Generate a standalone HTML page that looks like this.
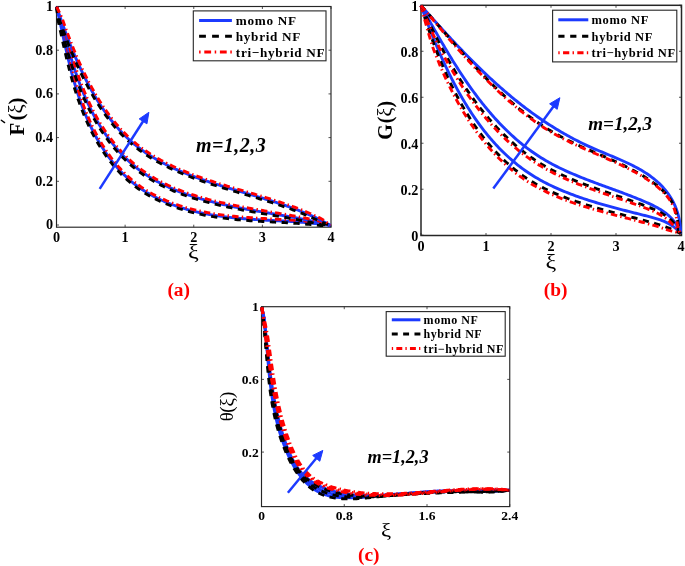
<!DOCTYPE html>
<html><head><meta charset="utf-8"><style>
html,body{margin:0;padding:0;background:#fff;width:685px;height:566px;overflow:hidden}
svg{display:block;will-change:transform}
text{font-family:"Liberation Serif",serif;fill:#000}
.tk{font-size:13.5px;font-weight:bold}
.lg{font-size:12.6px;font-weight:bold}
.m{font-size:19px;font-weight:bold;font-style:italic}
.xi{font-size:19px}
.yl{font-size:17px;font-weight:bold}
.pl{font-size:19.4px;font-weight:bold;fill:#ff0000}
</style></head><body>
<svg width="685" height="566" viewBox="0 0 685 566">
<rect x="56.50" y="6.50" width="274.50" height="220.70" fill="none" stroke="#262626" stroke-width="1.15"/>
<line x1="56.50" y1="227.20" x2="56.50" y2="224.70" stroke="#262626" stroke-width="0.8"/><line x1="56.50" y1="6.50" x2="56.50" y2="9.00" stroke="#262626" stroke-width="0.8"/><line x1="125.12" y1="227.20" x2="125.12" y2="224.70" stroke="#262626" stroke-width="0.8"/><line x1="125.12" y1="6.50" x2="125.12" y2="9.00" stroke="#262626" stroke-width="0.8"/><line x1="193.75" y1="227.20" x2="193.75" y2="224.70" stroke="#262626" stroke-width="0.8"/><line x1="193.75" y1="6.50" x2="193.75" y2="9.00" stroke="#262626" stroke-width="0.8"/><line x1="262.38" y1="227.20" x2="262.38" y2="224.70" stroke="#262626" stroke-width="0.8"/><line x1="262.38" y1="6.50" x2="262.38" y2="9.00" stroke="#262626" stroke-width="0.8"/><line x1="331.00" y1="227.20" x2="331.00" y2="224.70" stroke="#262626" stroke-width="0.8"/><line x1="331.00" y1="6.50" x2="331.00" y2="9.00" stroke="#262626" stroke-width="0.8"/><line x1="56.50" y1="225.00" x2="59.00" y2="225.00" stroke="#262626" stroke-width="0.8"/><line x1="331.00" y1="225.00" x2="328.50" y2="225.00" stroke="#262626" stroke-width="0.8"/><line x1="56.50" y1="181.30" x2="59.00" y2="181.30" stroke="#262626" stroke-width="0.8"/><line x1="331.00" y1="181.30" x2="328.50" y2="181.30" stroke="#262626" stroke-width="0.8"/><line x1="56.50" y1="137.60" x2="59.00" y2="137.60" stroke="#262626" stroke-width="0.8"/><line x1="331.00" y1="137.60" x2="328.50" y2="137.60" stroke="#262626" stroke-width="0.8"/><line x1="56.50" y1="93.90" x2="59.00" y2="93.90" stroke="#262626" stroke-width="0.8"/><line x1="331.00" y1="93.90" x2="328.50" y2="93.90" stroke="#262626" stroke-width="0.8"/><line x1="56.50" y1="50.20" x2="59.00" y2="50.20" stroke="#262626" stroke-width="0.8"/><line x1="331.00" y1="50.20" x2="328.50" y2="50.20" stroke="#262626" stroke-width="0.8"/><line x1="56.50" y1="6.50" x2="59.00" y2="6.50" stroke="#262626" stroke-width="0.8"/><line x1="331.00" y1="6.50" x2="328.50" y2="6.50" stroke="#262626" stroke-width="0.8"/>
<text x="56.50" y="242.10" text-anchor="middle" class="tk" style="font-size:14.2px">0</text><text x="125.12" y="242.10" text-anchor="middle" class="tk" style="font-size:14.2px">1</text><text x="193.75" y="242.10" text-anchor="middle" class="tk" style="font-size:14.2px">2</text><text x="262.38" y="242.10" text-anchor="middle" class="tk" style="font-size:14.2px">3</text><text x="331.00" y="242.10" text-anchor="middle" class="tk" style="font-size:14.2px">4</text><text x="53.00" y="229.30" text-anchor="end" class="tk" style="font-size:14.2px">0</text><text x="53.00" y="185.60" text-anchor="end" class="tk" style="font-size:14.2px">0.2</text><text x="53.00" y="141.90" text-anchor="end" class="tk" style="font-size:14.2px">0.4</text><text x="53.00" y="98.20" text-anchor="end" class="tk" style="font-size:14.2px">0.6</text><text x="53.00" y="54.50" text-anchor="end" class="tk" style="font-size:14.2px">0.8</text><text x="53.00" y="10.80" text-anchor="end" class="tk" style="font-size:14.2px">1</text>
<g>
<path d="M56.60 6.80L57.03 8.68L57.46 10.56L57.88 12.46L58.30 14.36L58.73 16.26L59.15 18.18L59.57 20.10L59.99 22.02L60.41 23.95L60.83 25.89L61.25 27.83L61.67 29.78L62.10 31.73L62.52 33.69L62.95 35.65L63.38 37.62L63.81 39.58L64.25 41.56L64.68 43.53L65.13 45.51L65.57 47.49L66.02 49.47L66.48 51.46L66.93 53.44L67.40 55.43L67.87 57.42L68.34 59.41L68.83 61.40L69.32 63.39L69.81 65.38L70.31 67.37L70.82 69.36L71.34 71.35L71.87 73.34L72.40 75.32L72.94 77.31L73.50 79.29L74.06 81.27L74.63 83.25L75.21 85.23L75.80 87.20L76.41 89.17L77.02 91.13L77.64 93.09L78.28 95.05L78.93 97.01L79.59 98.95L80.26 100.90L80.95 102.84L81.65 104.77L82.37 106.70L83.09 108.62L83.84 110.53L84.59 112.44L85.36 114.34L86.15 116.23L86.95 118.12L87.77 120.00L88.60 121.87L89.45 123.73L90.31 125.58L91.19 127.42L92.08 129.25L92.99 131.07L93.92 132.88L94.86 134.67L95.82 136.46L96.79 138.23L97.78 139.99L98.79 141.74L99.82 143.48L100.86 145.20L101.92 146.90L102.99 148.59L104.08 150.27L105.19 151.93L106.32 153.58L107.46 155.20L108.62 156.82L109.80 158.41L111.00 159.99L112.22 161.55L113.45 163.09L114.70 164.61L115.97 166.12L117.26 167.60L118.57 169.07L119.89 170.51L121.24 171.94L122.60 173.34L123.98 174.72L125.38 176.08L126.80 177.42L128.24 178.73L129.70 180.02L131.18 181.29L132.68 182.53L134.20 183.75L135.74 184.95L137.30 186.12L138.88 187.26L140.47 188.38L142.09 189.48L143.73 190.55L145.38 191.60L147.05 192.62L148.74 193.62L150.45 194.59L152.17 195.54L153.91 196.47L155.67 197.38L157.44 198.26L159.22 199.13L161.02 199.96L162.83 200.78L164.66 201.58L166.50 202.35L168.35 203.11L170.22 203.84L172.09 204.55L173.98 205.24L175.88 205.91L177.79 206.57L179.71 207.20L181.64 207.81L183.58 208.41L185.53 208.98L187.48 209.54L189.45 210.07L191.42 210.59L193.40 211.09L195.38 211.58L197.38 212.05L199.37 212.49L201.38 212.93L203.39 213.34L205.40 213.74L207.42 214.12L209.44 214.49L211.46 214.84L213.49 215.18L215.52 215.50L217.55 215.81L219.59 216.10L221.63 216.38L223.67 216.65L225.71 216.90L227.76 217.14L229.81 217.38L231.85 217.60L233.90 217.81L235.95 218.01L238.01 218.20L240.06 218.38L242.11 218.56L244.17 218.72L246.22 218.88L248.28 219.03L250.33 219.18L252.39 219.32L254.44 219.46L256.49 219.59L258.55 219.71L260.60 219.83L262.65 219.95L264.70 220.07L266.75 220.18L268.79 220.29L270.84 220.40L272.88 220.51L274.92 220.62L276.96 220.73L279.00 220.84L281.03 220.95L283.06 221.06L285.09 221.17L287.11 221.29L289.14 221.41L291.15 221.53L293.17 221.66L295.18 221.79L297.18 221.93L299.19 222.07L301.18 222.22L303.18 222.37L305.16 222.53L307.15 222.70L309.13 222.88L311.10 223.07L313.07 223.26L315.03 223.46L316.98 223.68L318.93 223.90L320.88 224.14L322.82 224.39L324.75 224.65L326.67 224.92L328.59 225.20L330.50 225.50" stroke="#1c3aff" stroke-width="2.90" fill="none"/>
<path d="M56.60 6.80L56.79 8.73L56.99 10.67L57.17 12.61L57.36 14.57L57.54 16.52L57.73 18.49L58.10 20.42L58.52 22.34L58.94 24.27L59.36 26.21L59.79 28.15L60.21 30.10L60.63 32.05L61.06 34.01L61.48 35.97L61.91 37.94L62.35 39.91L62.78 41.88L63.22 43.86L63.66 45.84L64.11 47.82L64.56 49.80L65.01 51.79L65.47 53.78L65.94 55.77L66.41 57.77L66.89 59.76L67.37 61.75L67.86 63.75L68.36 65.74L68.86 67.74L69.37 69.73L69.89 71.73L70.42 73.72L70.95 75.72L71.50 77.71L72.05 79.70L72.62 81.68L73.19 83.67L73.77 85.65L74.37 87.63L74.97 89.61L75.59 91.58L76.22 93.55L76.86 95.52L77.51 97.48L78.17 99.44L78.85 101.39L79.54 103.34L80.24 105.29L80.96 107.22L81.69 109.15L82.44 111.08L83.20 113.00L83.98 114.91L84.77 116.82L85.57 118.71L86.40 120.60L87.23 122.48L88.09 124.35L88.95 126.22L89.84 128.07L90.74 129.91L91.65 131.74L92.59 133.57L93.54 135.38L94.50 137.18L95.48 138.96L96.48 140.74L97.50 142.50L98.53 144.24L99.58 145.98L100.64 147.70L101.73 149.40L102.83 151.10L103.95 152.77L105.09 154.43L106.24 156.07L107.41 157.70L108.60 159.31L109.81 160.90L111.04 162.48L112.28 164.04L113.55 165.57L114.83 167.09L116.13 168.59L117.45 170.07L118.79 171.53L120.15 172.97L121.53 174.39L122.93 175.79L124.35 177.16L125.78 178.52L127.24 179.85L128.72 181.15L130.22 182.44L131.73 183.70L133.27 184.93L134.83 186.14L136.41 187.33L138.01 188.49L139.62 189.62L141.26 190.73L142.92 191.81L144.59 192.87L146.28 193.90L147.99 194.91L149.71 195.90L151.46 196.86L153.21 197.80L154.99 198.72L156.77 199.61L158.58 200.48L160.39 201.33L162.22 202.15L164.07 202.96L165.93 203.74L167.80 204.50L169.68 205.24L171.57 205.96L173.47 206.65L175.39 207.33L177.31 207.99L179.25 208.63L181.19 209.24L183.15 209.84L185.11 210.42L187.08 210.98L189.06 211.52L191.04 212.05L193.04 212.55L195.04 213.04L197.04 213.51L199.05 213.96L201.07 214.39L203.09 214.81L205.11 215.21L207.14 215.60L209.18 215.97L211.21 216.32L213.25 216.66L215.29 216.98L217.34 217.29L219.38 217.58L221.43 217.87L223.48 218.13L225.53 218.39L227.59 218.63L229.64 218.87L231.70 219.09L233.75 219.30L235.81 219.50L237.87 219.69L239.93 219.88L241.99 220.05L244.05 220.22L246.11 220.38L248.17 220.53L250.23 220.68L252.28 220.82L254.34 220.95L256.40 221.08L258.46 221.21L260.51 221.33L262.56 221.45L264.62 221.56L266.66 221.68L268.71 221.79L270.76 221.90L272.80 222.01L274.84 222.12L276.88 222.23L278.92 222.33L280.95 222.44L282.98 222.56L285.00 222.67L287.03 222.79L289.05 222.91L291.06 223.03L293.07 223.16L295.08 223.29L297.08 223.42L299.08 223.57L301.07 223.71L303.06 223.87L305.04 224.03L307.02 224.20L308.99 224.37L310.95 224.56L312.91 224.75L314.87 224.96L316.82 225.17L318.76 225.39L320.70 225.59L322.66 225.54L324.63 225.51L326.59 225.49L328.54 225.49L330.50 225.50" stroke="#000" stroke-width="2.90" fill="none" stroke-dasharray="6.3 5.5"/>
<path d="M56.60 6.80L57.26 8.63L57.93 10.46L58.59 12.30L59.25 14.15L59.91 16.00L60.57 17.86L61.03 19.77L61.45 21.70L61.88 23.63L62.30 25.57L62.72 27.51L63.14 29.46L63.56 31.41L63.99 33.37L64.42 35.33L64.84 37.29L65.28 39.26L65.71 41.23L66.15 43.20L66.59 45.18L67.03 47.16L67.48 49.14L67.94 51.12L68.40 53.10L68.86 55.09L69.33 57.07L69.80 59.06L70.28 61.04L70.77 63.03L71.27 65.01L71.77 67.00L72.28 68.98L72.79 70.97L73.32 72.95L73.85 74.93L74.39 76.91L74.94 78.88L75.50 80.86L76.07 82.83L76.65 84.80L77.24 86.76L77.84 88.72L78.45 90.68L79.07 92.63L79.71 94.58L80.35 96.53L81.01 98.47L81.68 100.40L82.36 102.33L83.06 104.25L83.77 106.17L84.49 108.08L85.23 109.98L85.98 111.88L86.75 113.77L87.53 115.65L88.33 117.53L89.14 119.39L89.97 121.25L90.81 123.10L91.67 124.94L92.54 126.77L93.43 128.58L94.33 130.39L95.25 132.19L96.19 133.97L97.14 135.74L98.10 137.50L99.09 139.25L100.09 140.99L101.10 142.71L102.14 144.41L103.19 146.10L104.25 147.78L105.33 149.44L106.43 151.09L107.55 152.72L108.68 154.34L109.84 155.93L111.00 157.51L112.19 159.08L113.39 160.62L114.61 162.15L115.85 163.65L117.11 165.14L118.39 166.61L119.68 168.06L120.99 169.49L122.32 170.90L123.67 172.29L125.03 173.65L126.42 174.99L127.82 176.32L129.25 177.62L130.69 178.89L132.15 180.14L133.63 181.37L135.13 182.58L136.65 183.76L138.19 184.91L139.75 186.04L141.32 187.15L142.92 188.23L144.54 189.29L146.17 190.32L147.83 191.33L149.50 192.32L151.18 193.29L152.89 194.23L154.61 195.15L156.34 196.04L158.10 196.92L159.86 197.77L161.64 198.60L163.44 199.41L165.25 200.20L167.07 200.97L168.91 201.71L170.76 202.44L172.62 203.15L174.49 203.83L176.37 204.50L178.27 205.14L180.17 205.77L182.09 206.38L184.01 206.97L185.94 207.54L187.89 208.09L189.84 208.63L191.80 209.14L193.76 209.64L195.73 210.12L197.71 210.58L199.70 211.03L201.69 211.46L203.68 211.87L205.69 212.27L207.69 212.65L209.70 213.01L211.71 213.36L213.73 213.70L215.75 214.02L217.77 214.32L219.80 214.61L221.83 214.89L223.86 215.16L225.89 215.41L227.93 215.65L229.97 215.88L232.01 216.10L234.05 216.31L236.10 216.52L238.14 216.71L240.19 216.89L242.24 217.06L244.29 217.23L246.33 217.39L248.38 217.54L250.43 217.68L252.49 217.82L254.54 217.96L256.59 218.09L258.64 218.21L260.69 218.34L262.73 218.45L264.78 218.57L266.83 218.68L268.87 218.79L270.92 218.90L272.96 219.01L275.00 219.12L277.04 219.23L279.08 219.34L281.11 219.45L283.15 219.56L285.18 219.67L287.20 219.79L289.23 219.91L291.25 220.03L293.26 220.16L295.28 220.29L297.29 220.43L299.29 220.57L301.30 220.72L303.30 220.88L305.29 221.04L307.28 221.21L309.26 221.39L311.24 221.57L313.22 221.77L315.19 221.97L317.15 222.19L319.11 222.41L321.06 222.69L322.97 223.23L324.87 223.78L326.75 224.34L328.63 224.91L330.50 225.50" stroke="#ff0000" stroke-width="2.90" fill="none" stroke-dasharray="6.5 3.2 1.4 3.2"/>
<path d="M56.60 6.80L57.12 8.61L57.63 10.42L58.14 12.24L58.65 14.07L59.16 15.90L59.67 17.74L60.18 19.58L60.69 21.43L61.20 23.28L61.71 25.14L62.22 27.00L62.73 28.86L63.24 30.73L63.76 32.60L64.28 34.48L64.80 36.36L65.32 38.24L65.84 40.12L66.37 42.00L66.91 43.89L67.44 45.77L67.99 47.66L68.53 49.55L69.08 51.44L69.64 53.33L70.21 55.22L70.77 57.11L71.35 59.00L71.93 60.88L72.52 62.77L73.12 64.65L73.72 66.54L74.34 68.42L74.96 70.30L75.59 72.17L76.22 74.05L76.87 75.92L77.53 77.79L78.20 79.65L78.88 81.51L79.56 83.36L80.26 85.22L80.97 87.06L81.70 88.90L82.43 90.74L83.18 92.57L83.93 94.39L84.71 96.21L85.49 98.02L86.29 99.83L87.10 101.63L87.93 103.42L88.77 105.20L89.62 106.98L90.50 108.74L91.38 110.50L92.28 112.25L93.20 114.00L94.14 115.73L95.08 117.45L96.05 119.16L97.03 120.87L98.03 122.56L99.04 124.24L100.07 125.91L101.11 127.56L102.17 129.21L103.24 130.84L104.33 132.46L105.44 134.07L106.56 135.67L107.70 137.25L108.85 138.81L110.02 140.36L111.20 141.90L112.40 143.42L113.61 144.93L114.84 146.42L116.09 147.90L117.35 149.35L118.62 150.80L119.92 152.22L121.22 153.63L122.54 155.02L123.88 156.39L125.23 157.74L126.60 159.07L127.99 160.39L129.38 161.68L130.80 162.96L132.23 164.21L133.67 165.45L135.13 166.66L136.61 167.85L138.10 169.02L139.60 170.17L141.12 171.30L142.66 172.40L144.21 173.49L145.77 174.55L147.35 175.59L148.94 176.61L150.55 177.61L152.17 178.59L153.80 179.55L155.44 180.49L157.10 181.41L158.77 182.32L160.46 183.20L162.15 184.07L163.86 184.92L165.57 185.75L167.30 186.56L169.04 187.36L170.79 188.14L172.55 188.91L174.32 189.65L176.10 190.39L177.89 191.10L179.69 191.81L181.50 192.49L183.32 193.17L185.15 193.82L186.98 194.47L188.83 195.10L190.68 195.72L192.54 196.32L194.40 196.91L196.28 197.49L198.16 198.06L200.04 198.62L201.94 199.16L203.84 199.69L205.74 200.22L207.65 200.73L209.57 201.23L211.49 201.72L213.42 202.20L215.35 202.68L217.29 203.14L219.23 203.59L221.17 204.04L223.12 204.48L225.07 204.91L227.03 205.33L228.98 205.75L230.95 206.16L232.91 206.56L234.87 206.96L236.84 207.35L238.81 207.73L240.78 208.11L242.75 208.48L244.72 208.85L246.70 209.22L248.67 209.58L250.65 209.94L252.62 210.29L254.59 210.64L256.57 210.99L258.54 211.33L260.51 211.67L262.48 212.01L264.45 212.35L266.42 212.69L268.38 213.03L270.35 213.36L272.31 213.70L274.26 214.03L276.22 214.37L278.17 214.70L280.12 215.04L282.06 215.37L284.00 215.71L285.94 216.05L287.87 216.39L289.80 216.74L291.72 217.08L293.64 217.43L295.55 217.79L297.45 218.14L299.35 218.50L301.25 218.87L303.13 219.23L305.02 219.61L306.89 219.99L308.75 220.37L310.61 220.76L312.46 221.15L314.31 221.55L316.14 221.96L317.97 222.38L319.79 222.80L321.60 223.23L323.40 223.66L325.19 224.11L326.97 224.56L328.74 225.02L330.50 225.50" stroke="#1c3aff" stroke-width="2.90" fill="none"/>
<path d="M56.60 6.80L56.89 8.67L57.18 10.55L57.46 12.43L57.74 14.32L58.02 16.22L58.30 18.12L58.73 19.98L59.24 21.83L59.75 23.68L60.26 25.54L60.77 27.40L61.28 29.26L61.80 31.13L62.31 33.00L62.83 34.88L63.35 36.76L63.87 38.64L64.40 40.52L64.93 42.41L65.46 44.30L66.00 46.19L66.54 48.08L67.09 49.97L67.65 51.86L68.20 53.76L68.77 55.65L69.34 57.54L69.92 59.44L70.50 61.33L71.09 63.22L71.69 65.11L72.30 67.00L72.91 68.89L73.53 70.77L74.16 72.66L74.81 74.54L75.46 76.41L76.12 78.29L76.79 80.16L77.47 82.03L78.16 83.89L78.86 85.75L79.58 87.60L80.30 89.46L81.04 91.30L81.79 93.14L82.55 94.97L83.33 96.80L84.12 98.62L84.92 100.44L85.74 102.25L86.57 104.05L87.42 105.85L88.28 107.63L89.15 109.41L90.05 111.18L90.95 112.95L91.88 114.70L92.82 116.45L93.77 118.18L94.75 119.91L95.73 121.62L96.74 123.32L97.76 125.02L98.79 126.70L99.84 128.37L100.91 130.03L101.99 131.67L103.09 133.31L104.21 134.93L105.34 136.54L106.48 138.13L107.65 139.71L108.82 141.27L110.02 142.82L111.23 144.36L112.45 145.88L113.69 147.38L114.95 148.87L116.22 150.34L117.51 151.80L118.81 153.23L120.13 154.65L121.46 156.06L122.81 157.44L124.18 158.81L125.56 160.15L126.96 161.48L128.37 162.79L129.80 164.08L131.25 165.35L132.71 166.59L134.18 167.82L135.67 169.02L137.18 170.21L138.70 171.37L140.24 172.51L141.79 173.63L143.36 174.72L144.94 175.79L146.53 176.85L148.14 177.88L149.76 178.89L151.40 179.88L153.05 180.85L154.71 181.80L156.38 182.73L158.07 183.64L159.76 184.53L161.47 185.41L163.20 186.27L164.93 187.10L166.67 187.92L168.42 188.73L170.19 189.52L171.96 190.29L173.75 191.04L175.54 191.78L177.34 192.50L179.16 193.21L180.98 193.90L182.81 194.57L184.64 195.24L186.49 195.89L188.35 196.52L190.21 197.14L192.08 197.75L193.95 198.35L195.84 198.93L197.73 199.50L199.62 200.06L201.53 200.60L203.44 201.14L205.35 201.66L207.27 202.18L209.19 202.68L211.12 203.18L213.06 203.66L215.00 204.13L216.94 204.60L218.89 205.06L220.84 205.50L222.79 205.94L224.75 206.38L226.71 206.80L228.68 207.22L230.64 207.63L232.61 208.03L234.58 208.43L236.55 208.82L238.52 209.20L240.50 209.58L242.47 209.96L244.45 210.33L246.43 210.69L248.40 211.05L250.38 211.41L252.36 211.77L254.33 212.12L256.31 212.46L258.28 212.81L260.26 213.15L262.23 213.49L264.20 213.83L266.16 214.17L268.13 214.50L270.09 214.84L272.05 215.17L274.01 215.51L275.97 215.84L277.92 216.18L279.86 216.51L281.81 216.85L283.75 217.19L285.68 217.53L287.61 217.87L289.53 218.21L291.45 218.56L293.37 218.91L295.27 219.26L297.18 219.62L299.07 219.98L300.96 220.34L302.84 220.71L304.72 221.08L306.59 221.46L308.45 221.84L310.30 222.23L312.15 222.62L313.99 223.02L315.81 223.43L317.63 223.84L319.44 224.26L321.27 224.57L323.13 224.73L324.99 224.91L326.83 225.09L328.67 225.29L330.50 225.50" stroke="#000" stroke-width="2.90" fill="none" stroke-dasharray="6.3 5.5"/>
<path d="M56.60 6.80L57.34 8.54L58.08 10.29L58.82 12.05L59.56 13.82L60.30 15.59L61.04 17.36L61.63 19.18L62.13 21.03L62.64 22.89L63.15 24.74L63.66 26.60L64.18 28.47L64.69 30.34L65.20 32.21L65.72 34.08L66.24 35.96L66.76 37.83L67.29 39.71L67.82 41.60L68.35 43.48L68.89 45.36L69.43 47.25L69.97 49.13L70.52 51.02L71.08 52.90L71.64 54.79L72.21 56.67L72.78 58.56L73.36 60.44L73.95 62.32L74.55 64.20L75.15 66.08L75.76 67.95L76.38 69.82L77.01 71.69L77.64 73.56L78.29 75.42L78.94 77.28L79.61 79.14L80.28 80.99L80.97 82.84L81.66 84.68L82.37 86.52L83.09 88.35L83.82 90.18L84.56 92.00L85.32 93.81L86.08 95.62L86.87 97.42L87.66 99.22L88.47 101.00L89.29 102.78L90.12 104.56L90.97 106.32L91.84 108.08L92.72 109.82L93.61 111.56L94.53 113.29L95.45 115.01L96.40 116.72L97.35 118.42L98.33 120.11L99.32 121.79L100.32 123.46L101.34 125.11L102.38 126.76L103.43 128.39L104.49 130.01L105.57 131.62L106.67 133.22L107.78 134.80L108.91 136.36L110.05 137.92L111.21 139.46L112.38 140.98L113.57 142.49L114.78 143.98L115.99 145.46L117.23 146.92L118.48 148.37L119.74 149.79L121.02 151.21L122.31 152.60L123.62 153.97L124.95 155.33L126.29 156.67L127.64 157.99L129.01 159.29L130.40 160.57L131.80 161.84L133.21 163.08L134.64 164.30L136.08 165.50L137.54 166.68L139.01 167.84L140.50 168.97L142.01 170.09L143.52 171.18L145.06 172.25L146.61 173.30L148.17 174.33L149.74 175.34L151.33 176.33L152.94 177.30L154.55 178.25L156.18 179.19L157.82 180.10L159.48 180.99L161.15 181.87L162.83 182.73L164.52 183.57L166.22 184.40L167.93 185.20L169.66 185.99L171.40 186.77L173.14 187.53L174.90 188.27L176.67 189.00L178.45 189.71L180.23 190.41L182.03 191.09L183.84 191.76L185.65 192.41L187.47 193.05L189.31 193.68L191.15 194.29L192.99 194.89L194.85 195.48L196.71 196.06L198.58 196.62L200.46 197.18L202.35 197.72L204.24 198.25L206.13 198.77L208.04 199.28L209.95 199.78L211.86 200.27L213.78 200.75L215.70 201.22L217.63 201.68L219.57 202.13L221.50 202.58L223.45 203.02L225.39 203.44L227.34 203.87L229.29 204.28L231.25 204.69L233.21 205.09L235.17 205.49L237.13 205.87L239.09 206.26L241.06 206.64L243.03 207.01L245.00 207.38L246.97 207.74L248.94 208.10L250.91 208.46L252.88 208.81L254.85 209.16L256.83 209.51L258.80 209.85L260.77 210.20L262.74 210.54L264.70 210.87L266.67 211.21L268.64 211.55L270.60 211.88L272.56 212.22L274.52 212.55L276.47 212.89L278.43 213.22L280.37 213.56L282.32 213.90L284.26 214.23L286.20 214.57L288.13 214.92L290.06 215.26L291.99 215.61L293.91 215.96L295.82 216.31L297.73 216.67L299.64 217.03L301.53 217.39L303.42 217.76L305.31 218.14L307.19 218.52L309.06 218.90L310.92 219.29L312.78 219.69L314.63 220.09L316.47 220.50L318.30 220.92L320.13 221.34L321.92 221.89L323.66 222.60L325.39 223.31L327.10 224.03L328.81 224.76L330.50 225.50" stroke="#ff0000" stroke-width="2.90" fill="none" stroke-dasharray="6.5 3.2 1.4 3.2"/>
<path d="M56.60 6.80L57.17 8.49L57.75 10.20L58.32 11.90L58.91 13.62L59.50 15.34L60.09 17.07L60.70 18.80L61.30 20.53L61.92 22.28L62.54 24.02L63.16 25.77L63.79 27.53L64.43 29.28L65.08 31.04L65.73 32.81L66.39 34.57L67.05 36.34L67.72 38.11L68.40 39.88L69.09 41.66L69.78 43.43L70.48 45.20L71.19 46.98L71.90 48.75L72.63 50.53L73.36 52.30L74.10 54.07L74.85 55.85L75.60 57.62L76.37 59.38L77.14 61.15L77.92 62.91L78.71 64.67L79.51 66.43L80.32 68.18L81.13 69.93L81.96 71.68L82.79 73.42L83.64 75.16L84.49 76.89L85.35 78.61L86.23 80.33L87.11 82.05L88.00 83.75L88.90 85.45L89.81 87.15L90.74 88.83L91.67 90.51L92.61 92.18L93.57 93.84L94.53 95.50L95.51 97.14L96.49 98.78L97.49 100.40L98.50 102.02L99.52 103.62L100.55 105.22L101.59 106.80L102.65 108.38L103.71 109.94L104.79 111.49L105.88 113.02L106.98 114.55L108.09 116.06L109.22 117.56L110.36 119.04L111.51 120.52L112.67 121.97L113.85 123.42L115.04 124.85L116.24 126.26L117.45 127.66L118.68 129.04L119.92 130.41L121.18 131.76L122.45 133.09L123.73 134.41L125.02 135.71L126.33 136.99L127.65 138.25L128.99 139.50L130.34 140.72L131.71 141.93L133.09 143.12L134.48 144.29L135.89 145.44L137.31 146.57L138.75 147.69L140.20 148.78L141.66 149.86L143.14 150.92L144.63 151.96L146.13 152.99L147.64 153.99L149.17 154.99L150.71 155.96L152.26 156.92L153.82 157.87L155.39 158.80L156.97 159.71L158.57 160.61L160.17 161.50L161.79 162.37L163.41 163.23L165.04 164.07L166.69 164.91L168.34 165.72L170.01 166.53L171.68 167.32L173.36 168.11L175.05 168.88L176.75 169.63L178.45 170.38L180.17 171.12L181.89 171.85L183.62 172.56L185.35 173.27L187.09 173.96L188.84 174.65L190.60 175.33L192.36 176.00L194.13 176.66L195.90 177.31L197.68 177.96L199.47 178.60L201.26 179.23L203.05 179.85L204.85 180.47L206.66 181.08L208.47 181.68L210.28 182.28L212.09 182.87L213.91 183.46L215.74 184.04L217.56 184.62L219.39 185.19L221.22 185.76L223.06 186.33L224.89 186.89L226.73 187.45L228.57 188.01L230.41 188.56L232.25 189.11L234.10 189.66L235.94 190.21L237.79 190.76L239.63 191.30L241.48 191.85L243.32 192.39L245.17 192.94L247.01 193.48L248.86 194.03L250.70 194.57L252.54 195.12L254.38 195.67L256.22 196.22L258.06 196.77L259.89 197.32L261.73 197.88L263.56 198.43L265.38 199.00L267.21 199.56L269.03 200.13L270.84 200.70L272.66 201.28L274.47 201.86L276.27 202.44L278.07 203.04L279.87 203.63L281.66 204.23L283.45 204.84L285.23 205.46L287.01 206.08L288.78 206.70L290.54 207.34L292.30 207.98L294.05 208.63L295.79 209.29L297.53 209.96L299.26 210.63L300.99 211.32L302.70 212.01L304.41 212.71L306.11 213.43L307.80 214.15L309.49 214.88L311.16 215.63L312.83 216.38L314.48 217.15L316.13 217.92L317.77 218.71L319.40 219.52L321.02 220.33L322.62 221.16L324.22 222.00L325.81 222.85L327.38 223.72L328.95 224.60L330.50 225.49" stroke="#1c3aff" stroke-width="2.90" fill="none"/>
<path d="M56.60 6.80L56.96 8.57L57.32 10.34L57.69 12.12L58.06 13.91L58.43 15.71L58.81 17.51L59.28 19.29L59.89 21.03L60.50 22.78L61.12 24.52L61.75 26.28L62.38 28.04L63.02 29.80L63.67 31.56L64.32 33.33L64.98 35.10L65.65 36.87L66.32 38.65L67.00 40.42L67.69 42.20L68.38 43.98L69.09 45.76L69.80 47.54L70.51 49.32L71.24 51.10L71.97 52.88L72.72 54.66L73.47 56.43L74.22 58.21L74.99 59.98L75.77 61.75L76.55 63.52L77.34 65.29L78.14 67.05L78.96 68.81L79.77 70.57L80.60 72.32L81.44 74.07L82.29 75.82L83.15 77.55L84.01 79.29L84.89 81.01L85.78 82.74L86.67 84.45L87.58 86.16L88.50 87.86L89.42 89.56L90.36 91.24L91.31 92.92L92.27 94.60L93.24 96.26L94.22 97.91L95.21 99.56L96.22 101.19L97.23 102.82L98.26 104.43L99.29 106.04L100.34 107.63L101.40 109.22L102.48 110.79L103.56 112.35L104.66 113.90L105.77 115.43L106.89 116.96L108.03 118.47L109.17 119.96L110.33 121.45L111.50 122.92L112.69 124.37L113.89 125.81L115.10 127.24L116.33 128.65L117.57 130.04L118.82 131.42L120.08 132.78L121.36 134.13L122.66 135.46L123.97 136.77L125.29 138.07L126.63 139.34L127.98 140.60L129.34 141.84L130.72 143.06L132.12 144.26L133.53 145.45L134.95 146.61L136.39 147.75L137.84 148.88L139.30 149.98L140.78 151.07L142.27 152.14L143.77 153.19L145.29 154.23L146.82 155.25L148.36 156.25L149.91 157.23L151.47 158.20L153.05 159.16L154.63 160.09L156.23 161.02L157.83 161.92L159.45 162.82L161.08 163.69L162.72 164.56L164.36 165.41L166.02 166.25L167.68 167.07L169.36 167.88L171.04 168.68L172.73 169.47L174.43 170.24L176.14 171.01L177.85 171.76L179.58 172.50L181.31 173.23L183.05 173.95L184.79 174.66L186.54 175.36L188.30 176.05L190.06 176.73L191.83 177.40L193.61 178.07L195.39 178.72L197.18 179.37L198.97 180.01L200.76 180.64L202.56 181.27L204.37 181.89L206.18 182.50L207.99 183.10L209.81 183.70L211.63 184.30L213.45 184.89L215.28 185.47L217.11 186.05L218.94 186.63L220.78 187.20L222.62 187.76L224.45 188.33L226.30 188.89L228.14 189.44L229.98 190.00L231.83 190.55L233.67 191.10L235.52 191.65L237.36 192.20L239.21 192.74L241.05 193.29L242.90 193.83L244.75 194.38L246.59 194.92L248.43 195.47L250.28 196.01L252.12 196.56L253.95 197.10L255.79 197.65L257.63 198.20L259.46 198.76L261.29 199.31L263.12 199.87L264.94 200.43L266.76 200.99L268.58 201.56L270.39 202.13L272.20 202.71L274.01 203.29L275.81 203.87L277.60 204.46L279.39 205.05L281.18 205.65L282.96 206.26L284.74 206.87L286.51 207.49L288.27 208.12L290.03 208.75L291.78 209.39L293.52 210.04L295.26 210.69L296.99 211.36L298.71 212.03L300.43 212.71L302.14 213.40L303.83 214.10L305.53 214.81L307.21 215.53L308.88 216.25L310.55 216.99L312.20 217.74L313.85 218.51L315.49 219.28L317.11 220.06L318.73 220.86L320.34 221.67L322.00 222.35L323.71 222.95L325.42 223.56L327.12 224.19L328.81 224.83L330.50 225.49" stroke="#000" stroke-width="2.90" fill="none" stroke-dasharray="6.3 5.5"/>
<path d="M56.60 6.80L57.38 8.42L58.17 10.05L58.96 11.69L59.76 13.33L60.56 14.97L61.38 16.62L62.11 18.30L62.72 20.04L63.33 21.78L63.95 23.52L64.57 25.26L65.20 27.02L65.84 28.77L66.48 30.53L67.13 32.29L67.79 34.05L68.45 35.81L69.12 37.58L69.80 39.34L70.48 41.11L71.18 42.88L71.87 44.65L72.58 46.42L73.29 48.19L74.02 49.96L74.75 51.73L75.48 53.49L76.23 55.26L76.98 57.02L77.74 58.79L78.51 60.55L79.29 62.30L80.08 64.06L80.87 65.81L81.68 67.55L82.49 69.30L83.31 71.03L84.14 72.77L84.98 74.50L85.83 76.22L86.69 77.94L87.56 79.65L88.44 81.35L89.33 83.05L90.23 84.75L91.13 86.43L92.05 88.11L92.98 89.78L93.92 91.44L94.87 93.09L95.83 94.74L96.80 96.37L97.78 98.00L98.77 99.61L99.77 101.22L100.78 102.81L101.81 104.40L102.84 105.97L103.89 107.54L104.95 109.09L106.02 110.62L107.10 112.15L108.19 113.66L109.30 115.17L110.42 116.65L111.54 118.13L112.69 119.59L113.84 121.03L115.01 122.46L116.19 123.88L117.38 125.28L118.58 126.67L119.80 128.04L121.03 129.39L122.27 130.73L123.53 132.05L124.80 133.35L126.08 134.64L127.37 135.91L128.68 137.16L130.01 138.39L131.34 139.61L132.69 140.80L134.06 141.98L135.44 143.13L136.83 144.27L138.24 145.39L139.66 146.49L141.10 147.58L142.54 148.64L144.01 149.69L145.48 150.73L146.97 151.74L148.47 152.74L149.98 153.73L151.50 154.69L153.04 155.64L154.59 156.58L156.15 157.50L157.72 158.41L159.30 159.30L160.89 160.18L162.49 161.05L164.10 161.90L165.73 162.74L167.36 163.56L169.00 164.38L170.66 165.18L172.32 165.97L173.99 166.74L175.67 167.51L177.35 168.26L179.05 169.01L180.75 169.74L182.47 170.46L184.19 171.17L185.91 171.88L187.65 172.57L189.39 173.25L191.14 173.93L192.89 174.60L194.65 175.25L196.42 175.90L198.19 176.55L199.97 177.18L201.75 177.81L203.54 178.43L205.34 179.05L207.14 179.65L208.94 180.26L210.75 180.85L212.56 181.45L214.37 182.03L216.19 182.61L218.01 183.19L219.84 183.76L221.67 184.33L223.50 184.90L225.33 185.46L227.17 186.02L229.00 186.57L230.84 187.13L232.68 187.68L234.53 188.23L236.37 188.77L238.21 189.32L240.06 189.87L241.90 190.41L243.75 190.96L245.59 191.50L247.44 192.04L249.28 192.59L251.13 193.13L252.97 193.68L254.81 194.23L256.65 194.78L258.49 195.33L260.33 195.88L262.16 196.44L263.99 197.00L265.82 197.56L267.65 198.13L269.48 198.70L271.30 199.27L273.11 199.85L274.93 200.43L276.74 201.02L278.54 201.61L280.35 202.21L282.14 202.81L283.93 203.42L285.72 204.04L287.50 204.66L289.28 205.29L291.05 205.93L292.82 206.57L294.57 207.23L296.33 207.89L298.07 208.56L299.81 209.24L301.54 209.92L303.27 210.62L304.99 211.33L306.69 212.04L308.40 212.77L310.09 213.51L311.77 214.26L313.45 215.02L315.12 215.79L316.78 216.57L318.43 217.37L320.07 218.17L321.70 218.99L323.25 219.96L324.73 221.04L326.19 222.14L327.64 223.25L329.08 224.36L330.50 225.49" stroke="#ff0000" stroke-width="2.90" fill="none" stroke-dasharray="6.5 3.2 1.4 3.2"/>
</g>
<rect x="193.30" y="10.90" width="132.70" height="49.90" fill="#fff" stroke="#262626" stroke-width="1.1"/>
<line x1="199.10" y1="20.40" x2="231.90" y2="20.40" stroke="#1c3aff" stroke-width="3"/><line x1="199.10" y1="36.15" x2="231.90" y2="36.15" stroke="#000" stroke-width="3" stroke-dasharray="6.80 6.20"/><line x1="199.10" y1="51.90" x2="231.90" y2="51.90" stroke="#ff0000" stroke-width="3" stroke-dasharray="1.50 3.70 6.80 3.60"/><text x="235.80" y="25.00" class="lg" style="font-size:13.20px;letter-spacing:0.70px">momo NF</text><text x="235.80" y="40.75" class="lg" style="font-size:13.20px;letter-spacing:0.70px">hybrid NF</text><text x="235.80" y="56.50" class="lg" style="font-size:13.20px;letter-spacing:0.70px">tri−hybrid NF</text>
<rect x="421.00" y="5.30" width="260.50" height="230.20" fill="none" stroke="#262626" stroke-width="1.50"/>
<line x1="421.00" y1="235.50" x2="421.00" y2="233.00" stroke="#262626" stroke-width="0.8"/><line x1="421.00" y1="5.30" x2="421.00" y2="7.80" stroke="#262626" stroke-width="0.8"/><line x1="486.00" y1="235.50" x2="486.00" y2="233.00" stroke="#262626" stroke-width="0.8"/><line x1="486.00" y1="5.30" x2="486.00" y2="7.80" stroke="#262626" stroke-width="0.8"/><line x1="551.00" y1="235.50" x2="551.00" y2="233.00" stroke="#262626" stroke-width="0.8"/><line x1="551.00" y1="5.30" x2="551.00" y2="7.80" stroke="#262626" stroke-width="0.8"/><line x1="616.00" y1="235.50" x2="616.00" y2="233.00" stroke="#262626" stroke-width="0.8"/><line x1="616.00" y1="5.30" x2="616.00" y2="7.80" stroke="#262626" stroke-width="0.8"/><line x1="681.00" y1="235.50" x2="681.00" y2="233.00" stroke="#262626" stroke-width="0.8"/><line x1="681.00" y1="5.30" x2="681.00" y2="7.80" stroke="#262626" stroke-width="0.8"/><line x1="421.00" y1="235.20" x2="423.50" y2="235.20" stroke="#262626" stroke-width="0.8"/><line x1="681.50" y1="235.20" x2="679.00" y2="235.20" stroke="#262626" stroke-width="0.8"/><line x1="421.00" y1="189.22" x2="423.50" y2="189.22" stroke="#262626" stroke-width="0.8"/><line x1="681.50" y1="189.22" x2="679.00" y2="189.22" stroke="#262626" stroke-width="0.8"/><line x1="421.00" y1="143.24" x2="423.50" y2="143.24" stroke="#262626" stroke-width="0.8"/><line x1="681.50" y1="143.24" x2="679.00" y2="143.24" stroke="#262626" stroke-width="0.8"/><line x1="421.00" y1="97.26" x2="423.50" y2="97.26" stroke="#262626" stroke-width="0.8"/><line x1="681.50" y1="97.26" x2="679.00" y2="97.26" stroke="#262626" stroke-width="0.8"/><line x1="421.00" y1="51.28" x2="423.50" y2="51.28" stroke="#262626" stroke-width="0.8"/><line x1="681.50" y1="51.28" x2="679.00" y2="51.28" stroke="#262626" stroke-width="0.8"/><line x1="421.00" y1="5.30" x2="423.50" y2="5.30" stroke="#262626" stroke-width="0.8"/><line x1="681.50" y1="5.30" x2="679.00" y2="5.30" stroke="#262626" stroke-width="0.8"/>
<text x="421.00" y="251.10" text-anchor="middle" class="tk" style="font-size:14.2px">0</text><text x="486.00" y="251.10" text-anchor="middle" class="tk" style="font-size:14.2px">1</text><text x="551.00" y="251.10" text-anchor="middle" class="tk" style="font-size:14.2px">2</text><text x="616.00" y="251.10" text-anchor="middle" class="tk" style="font-size:14.2px">3</text><text x="681.00" y="251.10" text-anchor="middle" class="tk" style="font-size:14.2px">4</text><text x="418.30" y="240.90" text-anchor="end" class="tk" style="font-size:14.2px">0</text><text x="418.30" y="194.92" text-anchor="end" class="tk" style="font-size:14.2px">0.2</text><text x="418.30" y="148.94" text-anchor="end" class="tk" style="font-size:14.2px">0.4</text><text x="418.30" y="102.96" text-anchor="end" class="tk" style="font-size:14.2px">0.6</text><text x="418.30" y="56.98" text-anchor="end" class="tk" style="font-size:14.2px">0.8</text><text x="418.30" y="11.00" text-anchor="end" class="tk" style="font-size:14.2px">1</text>
<g>
<path d="M421.00 5.60L421.61 7.28L422.22 8.97L422.84 10.66L423.46 12.36L424.09 14.05L424.72 15.75L425.36 17.45L425.99 19.16L426.64 20.87L427.29 22.58L427.94 24.29L428.60 26.00L429.27 27.72L429.93 29.44L430.61 31.16L431.29 32.88L431.97 34.60L432.66 36.32L433.36 38.04L434.06 39.76L434.77 41.49L435.48 43.21L436.20 44.93L436.92 46.66L437.65 48.38L438.39 50.10L439.13 51.82L439.88 53.54L440.63 55.26L441.39 56.97L442.16 58.69L442.93 60.40L443.71 62.12L444.50 63.82L445.29 65.53L446.09 67.24L446.90 68.94L447.71 70.64L448.53 72.33L449.36 74.03L450.20 75.72L451.04 77.40L451.89 79.08L452.75 80.76L453.61 82.44L454.48 84.11L455.36 85.77L456.25 87.43L457.15 89.09L458.05 90.74L458.96 92.38L459.88 94.02L460.81 95.66L461.74 97.29L462.69 98.91L463.64 100.52L464.60 102.13L465.57 103.74L466.55 105.33L467.53 106.92L468.53 108.51L469.53 110.08L470.54 111.65L471.56 113.21L472.59 114.76L473.63 116.30L474.68 117.84L475.74 119.37L476.81 120.89L477.88 122.40L478.97 123.90L480.07 125.39L481.17 126.87L482.29 128.35L483.41 129.81L484.55 131.27L485.69 132.71L486.84 134.14L488.01 135.57L489.18 136.98L490.37 138.38L491.57 139.77L492.77 141.15L493.99 142.52L495.21 143.88L496.45 145.22L497.70 146.56L498.96 147.88L500.23 149.19L501.51 150.48L502.80 151.77L504.11 153.04L505.42 154.30L506.75 155.54L508.08 156.78L509.43 157.99L510.79 159.20L512.16 160.39L513.55 161.57L514.94 162.73L516.35 163.88L517.77 165.01L519.20 166.13L520.64 167.23L522.09 168.32L523.56 169.39L525.04 170.45L526.53 171.49L528.03 172.52L529.55 173.53L531.08 174.52L532.62 175.50L534.17 176.46L535.74 177.41L537.32 178.34L538.90 179.25L540.50 180.15L542.11 181.04L543.73 181.91L545.37 182.76L547.01 183.61L548.66 184.44L550.32 185.25L551.99 186.05L553.67 186.84L555.35 187.62L557.05 188.38L558.75 189.13L560.46 189.87L562.18 190.60L563.91 191.32L565.64 192.02L567.38 192.71L569.13 193.40L570.88 194.07L572.64 194.73L574.40 195.38L576.17 196.03L577.95 196.66L579.73 197.28L581.51 197.89L583.30 198.50L585.09 199.10L586.89 199.68L588.69 200.26L590.49 200.83L592.30 201.40L594.11 201.95L595.92 202.50L597.73 203.05L599.55 203.58L601.36 204.11L603.18 204.63L605.00 205.15L606.82 205.66L608.64 206.17L610.46 206.67L612.29 207.16L614.11 207.65L615.93 208.14L617.75 208.62L619.57 209.10L621.38 209.57L623.20 210.04L625.01 210.51L626.83 210.97L628.64 211.43L630.44 211.89L632.25 212.35L634.05 212.80L635.84 213.26L637.64 213.71L639.43 214.15L641.21 214.60L642.99 215.05L644.77 215.50L646.54 215.94L648.30 216.39L650.06 216.84L651.81 217.31L653.54 217.79L655.26 218.29L656.97 218.81L658.65 219.35L660.32 219.93L661.97 220.54L663.59 221.19L665.19 221.89L666.76 222.63L668.31 223.42L669.82 224.26L671.30 225.17L672.75 226.14L674.16 227.17L675.53 228.28L676.86 229.46L678.15 230.72L679.40 232.06L680.60 233.49" stroke="#1c3aff" stroke-width="2.90" fill="none"/>
<path d="M421.00 5.60L421.52 7.31L422.05 9.02L422.58 10.74L423.12 12.46L423.67 14.19L424.22 15.92L424.77 17.65L425.33 19.39L425.90 21.12L426.47 22.87L427.05 24.61L427.64 26.35L428.23 28.10L428.83 29.85L429.43 31.60L430.04 33.36L430.66 35.11L431.29 36.87L431.92 38.63L432.55 40.38L433.20 42.14L433.85 43.90L434.51 45.66L435.17 47.42L435.84 49.18L436.52 50.94L437.21 52.69L437.90 54.45L438.60 56.21L439.31 57.96L440.03 59.72L440.75 61.47L441.48 63.22L442.22 64.97L442.96 66.71L443.71 68.46L444.47 70.20L445.24 71.94L446.02 73.67L446.80 75.41L447.60 77.14L448.40 78.86L449.21 80.58L450.02 82.30L450.85 84.02L451.68 85.73L452.52 87.43L453.38 89.13L454.23 90.83L455.10 92.52L455.98 94.21L456.86 95.89L457.76 97.56L458.66 99.23L459.57 100.89L460.49 102.55L461.42 104.20L462.36 105.85L463.31 107.48L464.27 109.11L465.23 110.74L466.21 112.35L467.20 113.96L468.19 115.56L469.20 117.15L470.21 118.74L471.23 120.31L472.27 121.88L473.31 123.44L474.36 124.99L475.43 126.53L476.50 128.06L477.59 129.58L478.68 131.09L479.78 132.59L480.90 134.08L482.02 135.57L483.16 137.04L484.30 138.50L485.46 139.95L486.63 141.39L487.80 142.81L488.99 144.23L490.19 145.63L491.40 147.02L492.62 148.40L493.85 149.77L495.10 151.13L496.35 152.47L497.62 153.80L498.89 155.12L500.18 156.42L501.48 157.71L502.79 158.99L504.11 160.25L505.44 161.50L506.79 162.73L508.15 163.95L509.52 165.16L510.90 166.35L512.29 167.53L513.69 168.69L515.11 169.83L516.54 170.96L517.98 172.08L519.43 173.18L520.90 174.26L522.38 175.32L523.87 176.37L525.37 177.41L526.88 178.42L528.41 179.42L529.95 180.40L531.50 181.37L533.07 182.31L534.65 183.24L536.24 184.16L537.84 185.05L539.45 185.93L541.08 186.80L542.71 187.65L544.35 188.48L546.01 189.30L547.67 190.11L549.35 190.90L551.03 191.68L552.73 192.44L554.43 193.19L556.14 193.93L557.86 194.66L559.59 195.37L561.32 196.07L563.06 196.76L564.81 197.44L566.57 198.11L568.33 198.76L570.10 199.41L571.88 200.04L573.66 200.67L575.45 201.28L577.24 201.89L579.03 202.49L580.84 203.08L582.64 203.66L584.45 204.23L586.27 204.80L588.08 205.35L589.91 205.90L591.73 206.45L593.56 206.98L595.39 207.51L597.22 208.04L599.05 208.56L600.89 209.07L602.72 209.58L604.56 210.08L606.40 210.58L608.24 211.08L610.08 211.57L611.91 212.06L613.75 212.54L615.59 213.02L617.43 213.50L619.26 213.98L621.10 214.46L622.93 214.93L624.76 215.40L626.59 215.87L628.42 216.34L630.24 216.81L632.06 217.28L633.88 217.75L635.69 218.22L637.50 218.69L639.31 219.16L641.11 219.64L642.90 220.11L644.70 220.59L646.48 221.07L648.26 221.55L650.04 222.04L651.80 222.53L653.56 223.04L655.32 223.55L657.07 224.07L658.81 224.61L660.54 225.16L662.26 225.73L663.98 226.31L665.69 226.92L667.38 227.54L669.07 228.19L670.75 228.86L672.42 229.56L674.08 230.29L675.73 231.04L677.36 231.83L678.99 232.64L680.60 233.49" stroke="#000" stroke-width="2.90" fill="none" stroke-dasharray="6.3 5.5"/>
<path d="M421.00 5.60L421.44 7.34L421.88 9.08L422.33 10.82L422.79 12.57L423.25 14.32L423.71 16.08L424.18 17.84L424.66 19.60L425.14 21.37L425.63 23.14L426.13 24.92L426.63 26.70L427.14 28.48L427.65 30.26L428.17 32.04L428.70 33.83L429.23 35.62L429.77 37.41L430.32 39.20L430.87 41.00L431.43 42.79L432.00 44.59L432.57 46.39L433.15 48.19L433.79 49.97L434.47 51.73L435.16 53.50L435.86 55.26L436.56 57.03L437.27 58.79L437.99 60.55L438.72 62.31L439.45 64.07L440.19 65.83L440.94 67.58L441.70 69.33L442.46 71.08L443.23 72.83L444.01 74.58L444.80 76.32L445.60 78.06L446.40 79.79L447.22 81.52L448.04 83.25L448.87 84.98L449.71 86.70L450.55 88.41L451.41 90.12L452.27 91.83L453.15 93.53L454.03 95.23L454.92 96.92L455.82 98.60L456.73 100.28L457.65 101.96L458.57 103.63L459.51 105.29L460.45 106.94L461.41 108.59L462.37 110.23L463.35 111.87L464.33 113.49L465.32 115.11L466.33 116.73L467.34 118.33L468.36 119.93L469.39 121.52L470.44 123.10L471.49 124.67L472.55 126.23L473.62 127.78L474.71 129.33L475.80 130.86L476.90 132.39L478.02 133.90L479.14 135.41L480.28 136.90L481.42 138.39L482.58 139.86L483.75 141.33L484.92 142.78L486.11 144.22L487.31 145.65L488.52 147.07L489.75 148.47L490.98 149.87L492.22 151.25L493.48 152.62L494.75 153.98L496.03 155.32L497.32 156.66L498.62 157.97L499.94 159.28L501.26 160.57L502.60 161.85L503.95 163.11L505.31 164.36L506.68 165.60L508.07 166.82L509.47 168.02L510.88 169.22L512.30 170.39L513.74 171.55L515.18 172.70L516.64 173.83L518.12 174.94L519.60 176.04L521.10 177.12L522.61 178.18L524.13 179.23L525.67 180.26L527.22 181.27L528.78 182.26L530.36 183.24L531.94 184.20L533.54 185.14L535.15 186.07L536.77 186.98L538.41 187.87L540.05 188.75L541.70 189.61L543.37 190.45L545.04 191.28L546.73 192.09L548.42 192.89L550.12 193.68L551.83 194.45L553.55 195.21L555.28 195.96L557.01 196.69L558.75 197.41L560.50 198.11L562.26 198.81L564.03 199.49L565.80 200.17L567.57 200.83L569.35 201.48L571.14 202.12L572.94 202.75L574.73 203.37L576.54 203.98L578.35 204.58L580.16 205.17L581.97 205.75L583.79 206.33L585.62 206.90L587.44 207.46L589.27 208.01L591.11 208.56L592.94 209.10L594.78 209.63L596.61 210.15L598.45 210.68L600.30 211.19L602.14 211.70L603.98 212.21L605.82 212.71L607.67 213.20L609.51 213.70L611.35 214.18L613.19 214.67L615.03 215.15L616.87 215.63L618.71 216.11L620.55 216.59L622.38 217.06L624.21 217.53L626.04 218.00L627.87 218.47L629.69 218.94L631.51 219.41L633.33 219.88L635.14 220.35L636.95 220.82L638.75 221.29L640.55 221.76L642.34 222.24L644.13 222.71L645.91 223.19L647.68 223.67L649.45 224.16L651.21 224.65L652.95 225.15L654.70 225.66L656.43 226.18L658.15 226.71L659.86 227.25L661.56 227.81L663.26 228.39L664.94 228.99L666.61 229.60L668.27 230.24L669.99 230.71L671.76 231.09L673.53 231.50L675.30 231.95L677.07 232.43L678.83 232.94L680.60 233.49" stroke="#ff0000" stroke-width="2.90" fill="none" stroke-dasharray="6.5 3.2 1.4 3.2"/>
<path d="M421.00 5.60L421.86 7.13L422.71 8.67L423.57 10.21L424.42 11.75L425.29 13.30L426.15 14.85L427.01 16.40L427.88 17.95L428.75 19.50L429.62 21.06L430.49 22.62L431.37 24.18L432.25 25.74L433.13 27.30L434.02 28.87L434.91 30.43L435.80 32.00L436.69 33.56L437.59 35.13L438.49 36.70L439.39 38.27L440.30 39.83L441.21 41.40L442.12 42.97L443.04 44.54L443.96 46.10L444.88 47.67L445.81 49.23L446.75 50.79L447.68 52.36L448.62 53.92L449.57 55.48L450.52 57.03L451.47 58.59L452.43 60.14L453.39 61.69L454.36 63.24L455.33 64.79L456.31 66.33L457.29 67.87L458.28 69.41L459.27 70.94L460.26 72.47L461.27 74.00L462.27 75.52L463.29 77.04L464.30 78.56L465.33 80.07L466.36 81.58L467.39 83.08L468.43 84.58L469.48 86.07L470.53 87.56L471.59 89.04L472.65 90.52L473.72 91.99L474.80 93.46L475.88 94.92L476.97 96.37L478.07 97.82L479.17 99.26L480.28 100.70L481.39 102.13L482.52 103.55L483.64 104.96L484.78 106.37L485.92 107.77L487.07 109.17L488.23 110.55L489.40 111.93L490.57 113.30L491.75 114.67L492.94 116.02L494.13 117.36L495.34 118.70L496.55 120.03L497.76 121.35L498.99 122.66L500.23 123.96L501.47 125.25L502.72 126.54L503.98 127.81L505.25 129.07L506.52 130.32L507.81 131.57L509.10 132.80L510.40 134.02L511.71 135.23L513.03 136.43L514.36 137.62L515.70 138.80L517.04 139.97L518.40 141.12L519.76 142.27L521.14 143.40L522.52 144.52L523.91 145.63L525.32 146.72L526.73 147.80L528.15 148.88L529.58 149.93L531.03 150.98L532.48 152.01L533.94 153.03L535.41 154.03L536.89 155.02L538.39 156.00L539.89 156.97L541.40 157.92L542.93 158.85L544.46 159.77L546.01 160.68L547.56 161.57L549.13 162.45L550.71 163.32L552.29 164.17L553.88 165.01L555.49 165.84L557.10 166.66L558.72 167.46L560.34 168.26L561.98 169.04L563.62 169.81L565.27 170.57L566.93 171.33L568.59 172.07L570.25 172.81L571.93 173.53L573.61 174.25L575.29 174.96L576.98 175.66L578.67 176.36L580.37 177.05L582.07 177.73L583.78 178.41L585.48 179.08L587.20 179.74L588.91 180.40L590.63 181.06L592.34 181.71L594.06 182.36L595.78 183.00L597.51 183.64L599.23 184.28L600.95 184.91L602.68 185.55L604.40 186.18L606.12 186.81L607.85 187.44L609.57 188.07L611.29 188.70L613.01 189.32L614.72 189.95L616.44 190.58L618.15 191.21L619.86 191.84L621.57 192.48L623.27 193.11L624.97 193.75L626.66 194.40L628.35 195.04L630.04 195.69L631.72 196.34L633.39 197.00L635.06 197.66L636.73 198.33L638.39 199.00L640.04 199.68L641.68 200.36L643.32 201.05L644.95 201.75L646.57 202.46L648.18 203.17L649.78 203.90L651.37 204.64L652.95 205.40L654.50 206.18L656.04 206.98L657.56 207.80L659.05 208.65L660.52 209.54L661.96 210.45L663.38 211.40L664.76 212.39L666.12 213.42L667.44 214.49L668.72 215.60L669.96 216.77L671.17 217.99L672.33 219.25L673.45 220.58L674.52 221.96L675.55 223.41L676.53 224.91L677.45 226.49L678.32 228.13L679.14 229.84L679.90 231.63L680.60 233.50" stroke="#1c3aff" stroke-width="2.90" fill="none"/>
<path d="M421.00 5.60L421.73 7.20L422.46 8.80L423.20 10.41L423.94 12.01L424.69 13.62L425.44 15.23L426.20 16.84L426.96 18.46L427.72 20.07L428.50 21.68L429.27 23.30L430.05 24.92L430.84 26.53L431.63 28.15L432.42 29.77L433.22 31.38L434.03 33.00L434.84 34.62L435.66 36.23L436.48 37.85L437.31 39.46L438.14 41.08L438.98 42.69L439.82 44.30L440.67 45.92L441.53 47.52L442.39 49.13L443.26 50.74L444.13 52.34L445.01 53.95L445.89 55.55L446.78 57.14L447.68 58.74L448.58 60.33L449.49 61.92L450.41 63.51L451.33 65.09L452.25 66.68L453.19 68.25L454.13 69.83L455.08 71.40L456.03 72.96L456.99 74.53L457.96 76.09L458.93 77.64L459.91 79.19L460.89 80.74L461.89 82.28L462.89 83.81L463.89 85.34L464.91 86.87L465.93 88.39L466.96 89.91L467.99 91.42L469.04 92.92L470.08 94.42L471.14 95.91L472.21 97.40L473.28 98.88L474.36 100.35L475.44 101.82L476.54 103.28L477.64 104.73L478.75 106.17L479.86 107.61L480.99 109.04L482.12 110.47L483.26 111.88L484.41 113.29L485.56 114.69L486.73 116.09L487.90 117.47L489.08 118.85L490.26 120.21L491.46 121.57L492.66 122.92L493.88 124.26L495.10 125.59L496.33 126.92L497.57 128.23L498.81 129.53L500.07 130.83L501.33 132.11L502.60 133.38L503.88 134.65L505.17 135.90L506.47 137.14L507.78 138.38L509.09 139.60L510.42 140.81L511.75 142.01L513.09 143.20L514.44 144.37L515.80 145.54L517.17 146.69L518.55 147.83L519.94 148.96L521.34 150.08L522.75 151.19L524.16 152.28L525.59 153.36L527.03 154.43L528.47 155.49L529.93 156.53L531.39 157.56L532.87 158.57L534.35 159.58L535.84 160.57L537.35 161.54L538.86 162.50L540.39 163.45L541.92 164.38L543.46 165.30L545.02 166.21L546.58 167.10L548.15 167.97L549.74 168.84L551.33 169.69L552.93 170.52L554.54 171.35L556.16 172.16L557.78 172.96L559.42 173.75L561.06 174.52L562.71 175.29L564.36 176.05L566.02 176.79L567.69 177.53L569.37 178.25L571.05 178.97L572.73 179.68L574.42 180.38L576.12 181.07L577.82 181.75L579.53 182.43L581.23 183.10L582.95 183.76L584.66 184.41L586.39 185.06L588.11 185.70L589.83 186.34L591.56 186.97L593.29 187.60L595.03 188.22L596.76 188.84L598.50 189.45L600.24 190.06L601.97 190.67L603.71 191.27L605.45 191.88L607.19 192.47L608.93 193.07L610.67 193.67L612.41 194.26L614.14 194.85L615.88 195.45L617.61 196.04L619.35 196.63L621.08 197.22L622.80 197.82L624.53 198.41L626.25 199.01L627.97 199.60L629.69 200.20L631.40 200.80L633.10 201.41L634.81 202.01L636.51 202.62L638.20 203.24L639.89 203.86L641.57 204.48L643.25 205.10L644.92 205.74L646.59 206.37L648.25 207.02L649.90 207.68L651.53 208.35L653.16 209.03L654.76 209.74L656.35 210.48L657.92 211.24L659.47 212.03L661.00 212.86L662.50 213.73L663.97 214.63L665.41 215.58L666.82 216.58L668.20 217.63L669.55 218.73L670.85 219.90L672.12 221.12L673.34 222.41L674.53 223.76L675.66 225.19L676.75 226.69L677.79 228.27L678.78 229.92L679.72 231.67L680.60 233.50" stroke="#000" stroke-width="2.90" fill="none" stroke-dasharray="6.3 5.5"/>
<path d="M421.00 5.60L421.66 7.23L422.32 8.87L422.99 10.51L423.66 12.15L424.33 13.79L425.01 15.43L425.70 17.08L426.39 18.73L427.08 20.37L427.78 22.02L428.49 23.68L429.20 25.33L429.91 26.98L430.63 28.64L431.36 30.29L432.09 31.95L432.82 33.60L433.57 35.26L434.31 36.92L435.06 38.57L435.82 40.23L436.59 41.88L437.35 43.54L438.13 45.19L438.91 46.85L439.76 48.47L440.63 50.08L441.50 51.69L442.37 53.30L443.26 54.91L444.14 56.52L445.04 58.12L445.94 59.72L446.84 61.32L447.76 62.92L448.68 64.51L449.60 66.10L450.53 67.69L451.47 69.28L452.41 70.86L453.37 72.43L454.32 74.01L455.29 75.58L456.26 77.14L457.24 78.71L458.22 80.26L459.21 81.82L460.21 83.36L461.21 84.91L462.23 86.45L463.25 87.98L464.27 89.51L465.31 91.03L466.35 92.55L467.39 94.06L468.45 95.57L469.51 97.07L470.58 98.56L471.66 100.05L472.75 101.54L473.84 103.01L474.94 104.48L476.05 105.94L477.16 107.40L478.29 108.84L479.42 110.28L480.56 111.72L481.70 113.14L482.86 114.56L484.02 115.97L485.19 117.37L486.37 118.77L487.56 120.15L488.76 121.53L489.96 122.90L491.18 124.26L492.40 125.61L493.63 126.95L494.87 128.28L496.11 129.61L497.37 130.92L498.64 132.22L499.91 133.52L501.19 134.80L502.48 136.08L503.78 137.34L505.09 138.59L506.41 139.84L507.74 141.07L509.07 142.29L510.42 143.50L511.77 144.70L513.14 145.89L514.51 147.06L515.89 148.23L517.28 149.38L518.69 150.52L520.10 151.65L521.52 152.77L522.95 153.87L524.39 154.96L525.84 156.04L527.30 157.11L528.77 158.16L530.25 159.20L531.74 160.23L533.24 161.24L534.75 162.24L536.27 163.22L537.80 164.20L539.34 165.15L540.89 166.10L542.45 167.03L544.02 167.94L545.60 168.84L547.19 169.72L548.79 170.60L550.40 171.45L552.01 172.30L553.64 173.13L555.27 173.95L556.91 174.76L558.56 175.55L560.21 176.33L561.87 177.11L563.54 177.87L565.21 178.62L566.89 179.36L568.58 180.09L570.27 180.81L571.96 181.52L573.66 182.23L575.37 182.92L577.08 183.61L578.79 184.29L580.51 184.96L582.23 185.63L583.96 186.28L585.68 186.93L587.41 187.58L589.15 188.22L590.88 188.85L592.62 189.48L594.35 190.10L596.09 190.72L597.83 191.34L599.57 191.95L601.32 192.56L603.06 193.16L604.80 193.77L606.54 194.37L608.28 194.96L610.02 195.56L611.76 196.15L613.50 196.75L615.23 197.34L616.97 197.93L618.70 198.52L620.43 199.11L622.15 199.71L623.88 200.30L625.60 200.90L627.31 201.49L629.02 202.09L630.73 202.69L632.44 203.29L634.13 203.90L635.83 204.51L637.52 205.12L639.20 205.73L640.88 206.35L642.55 206.98L644.21 207.61L645.87 208.24L647.52 208.88L649.15 209.53L650.76 210.19L652.36 210.87L653.94 211.57L655.50 212.29L657.03 213.03L658.54 213.80L660.02 214.61L661.47 215.44L662.90 216.32L664.29 217.23L665.64 218.19L666.96 219.20L668.25 220.25L669.49 221.36L670.70 222.53L671.87 223.75L673.05 224.99L674.38 226.17L675.68 227.43L676.95 228.79L678.20 230.25L679.42 231.82L680.60 233.50" stroke="#ff0000" stroke-width="2.90" fill="none" stroke-dasharray="6.5 3.2 1.4 3.2"/>
<path d="M421.00 5.60L422.19 6.94L423.39 8.28L424.58 9.63L425.77 10.97L426.96 12.31L428.16 13.65L429.35 14.99L430.55 16.33L431.75 17.67L432.95 19.01L434.15 20.34L435.35 21.68L436.55 23.01L437.76 24.35L438.96 25.68L440.17 27.01L441.38 28.33L442.59 29.66L443.80 30.99L445.01 32.31L446.23 33.63L447.44 34.95L448.66 36.27L449.88 37.59L451.11 38.90L452.33 40.21L453.56 41.52L454.78 42.83L456.02 44.13L457.25 45.44L458.48 46.74L459.72 48.03L460.96 49.33L462.20 50.62L463.45 51.91L464.69 53.20L465.94 54.48L467.20 55.76L468.45 57.04L469.71 58.31L470.97 59.58L472.23 60.85L473.50 62.12L474.76 63.38L476.03 64.64L477.31 65.89L478.59 67.14L479.87 68.39L481.15 69.63L482.44 70.87L483.73 72.10L485.02 73.34L486.32 74.56L487.62 75.79L488.92 77.00L490.23 78.22L491.54 79.43L492.85 80.64L494.17 81.84L495.49 83.03L496.81 84.23L498.14 85.41L499.48 86.60L500.81 87.77L502.15 88.95L503.50 90.11L504.84 91.28L506.20 92.43L507.55 93.59L508.91 94.73L510.28 95.88L511.65 97.01L513.02 98.14L514.40 99.27L515.78 100.39L517.17 101.50L518.56 102.61L519.95 103.71L521.35 104.81L522.76 105.90L524.17 106.98L525.58 108.06L527.00 109.14L528.43 110.20L529.86 111.26L531.29 112.31L532.73 113.36L534.17 114.40L535.62 115.43L537.08 116.46L538.54 117.48L540.00 118.49L541.47 119.50L542.95 120.50L544.43 121.49L545.92 122.48L547.41 123.45L548.91 124.42L550.41 125.39L551.92 126.34L553.43 127.29L554.95 128.23L556.48 129.17L558.01 130.09L559.55 131.01L561.09 131.92L562.64 132.82L564.20 133.71L565.76 134.60L567.33 135.48L568.90 136.35L570.49 137.21L572.07 138.06L573.67 138.91L575.27 139.74L576.87 140.57L578.49 141.39L580.11 142.20L581.73 143.00L583.36 143.79L585.00 144.58L586.65 145.35L588.30 146.12L589.96 146.87L591.63 147.62L593.30 148.36L594.98 149.09L596.67 149.82L598.35 150.54L600.04 151.25L601.74 151.96L603.43 152.67L605.12 153.37L606.82 154.08L608.52 154.78L610.21 155.49L611.90 156.19L613.59 156.90L615.27 157.61L616.95 158.32L618.63 159.04L620.30 159.77L621.96 160.50L623.62 161.24L625.26 161.98L626.90 162.74L628.53 163.51L630.15 164.28L631.76 165.07L633.35 165.87L634.93 166.69L636.50 167.52L638.06 168.36L639.60 169.22L641.12 170.10L642.63 171.00L644.12 171.91L645.59 172.85L647.05 173.80L648.48 174.78L649.89 175.78L651.29 176.80L652.66 177.84L654.01 178.91L655.33 180.00L656.63 181.12L657.91 182.26L659.16 183.42L660.38 184.62L661.58 185.83L662.75 187.07L663.89 188.34L664.99 189.64L666.07 190.96L667.12 192.30L668.13 193.68L669.11 195.08L670.06 196.51L670.97 197.97L671.84 199.46L672.68 200.97L673.48 202.52L674.25 204.09L674.97 205.69L675.66 207.33L676.30 208.99L676.90 210.69L677.46 212.41L677.98 214.17L678.45 215.95L678.88 217.77L679.26 219.62L679.60 221.51L679.89 223.42L680.13 225.37L680.32 227.36L680.46 229.37L680.56 231.42L680.60 233.51" stroke="#1c3aff" stroke-width="2.90" fill="none"/>
<path d="M421.00 5.60L422.18 6.92L423.36 8.25L424.53 9.58L425.70 10.91L426.88 12.25L428.05 13.58L429.23 14.92L430.40 16.26L431.57 17.61L432.74 18.95L433.92 20.30L435.09 21.64L436.26 22.99L437.43 24.34L438.61 25.69L439.78 27.04L440.95 28.39L442.13 29.75L443.30 31.10L444.48 32.45L445.66 33.80L446.83 35.16L448.01 36.51L449.19 37.86L450.37 39.21L451.56 40.57L452.74 41.92L453.92 43.27L455.11 44.62L456.30 45.96L457.49 47.31L458.68 48.66L459.87 50.00L461.07 51.34L462.27 52.68L463.47 54.02L464.67 55.36L465.87 56.69L467.08 58.03L468.29 59.36L469.50 60.68L470.72 62.01L471.93 63.33L473.15 64.65L474.38 65.96L475.60 67.28L476.83 68.59L478.06 69.89L479.30 71.19L480.54 72.49L481.78 73.79L483.02 75.08L484.27 76.36L485.53 77.64L486.78 78.92L488.04 80.19L489.31 81.46L490.58 82.73L491.85 83.98L493.13 85.24L494.41 86.49L495.69 87.73L496.98 88.96L498.28 90.20L499.58 91.42L500.88 92.64L502.19 93.85L503.50 95.06L504.82 96.26L506.15 97.46L507.47 98.65L508.81 99.83L510.15 101.00L511.49 102.17L512.84 103.33L514.20 104.48L515.56 105.63L516.93 106.77L518.30 107.90L519.68 109.02L521.07 110.13L522.46 111.24L523.86 112.34L525.26 113.43L526.67 114.51L528.09 115.58L529.51 116.65L530.94 117.70L532.38 118.75L533.82 119.79L535.27 120.81L536.73 121.83L538.20 122.84L539.67 123.84L541.15 124.83L542.63 125.81L544.13 126.78L545.63 127.74L547.14 128.68L548.66 129.62L550.18 130.55L551.71 131.47L553.25 132.37L554.80 133.27L556.36 134.15L557.92 135.02L559.49 135.88L561.08 136.73L562.66 137.57L564.26 138.40L565.87 139.22L567.48 140.03L569.09 140.83L570.72 141.62L572.34 142.40L573.98 143.18L575.62 143.94L577.26 144.71L578.91 145.46L580.56 146.21L582.21 146.96L583.87 147.70L585.53 148.43L587.19 149.17L588.85 149.90L590.52 150.62L592.19 151.35L593.85 152.07L595.52 152.79L597.19 153.51L598.85 154.24L600.52 154.96L602.18 155.68L603.85 156.40L605.51 157.13L607.17 157.86L608.82 158.59L610.47 159.32L612.12 160.06L613.77 160.80L615.41 161.54L617.04 162.30L618.67 163.05L620.30 163.82L621.92 164.59L623.53 165.36L625.14 166.15L626.74 166.94L628.33 167.74L629.91 168.55L631.49 169.37L633.06 170.20L634.62 171.04L636.17 171.90L637.71 172.76L639.24 173.64L640.76 174.52L642.26 175.43L643.76 176.34L645.25 177.27L646.72 178.21L648.18 179.17L649.63 180.14L651.07 181.13L652.49 182.14L653.90 183.16L655.29 184.20L656.67 185.27L658.02 186.35L659.36 187.45L660.67 188.58L661.95 189.74L663.20 190.93L664.41 192.14L665.59 193.39L666.73 194.68L667.83 196.00L668.89 197.36L669.90 198.76L670.85 200.21L671.76 201.69L672.61 203.23L673.40 204.81L674.13 206.44L674.80 208.13L675.40 209.87L675.93 211.66L676.39 213.51L676.78 215.42L677.12 217.36L677.42 219.32L677.71 221.28L677.99 223.22L678.29 225.13L678.62 226.98L679.00 228.76L679.45 230.45L679.97 232.04L680.60 233.50" stroke="#000" stroke-width="2.90" fill="none" stroke-dasharray="6.3 5.5"/>
<path d="M421.00 5.60L422.16 6.94L423.31 8.29L424.46 9.64L425.61 11.00L426.76 12.35L427.91 13.71L429.06 15.07L430.21 16.43L431.36 17.79L432.50 19.16L433.65 20.52L434.80 21.89L435.95 23.26L437.10 24.63L438.25 26.00L439.40 27.37L440.55 28.75L441.70 30.12L442.85 31.49L444.00 32.87L445.15 34.24L446.31 35.61L447.46 36.99L448.62 38.36L449.78 39.74L450.95 41.09L452.14 42.44L453.32 43.79L454.51 45.14L455.70 46.49L456.89 47.84L458.08 49.19L459.28 50.53L460.47 51.88L461.67 53.22L462.87 54.56L464.08 55.89L465.28 57.23L466.49 58.56L467.70 59.89L468.91 61.22L470.13 62.55L471.34 63.87L472.57 65.19L473.79 66.51L475.02 67.82L476.25 69.13L477.48 70.44L478.72 71.75L479.96 73.05L481.20 74.34L482.45 75.63L483.70 76.92L484.95 78.20L486.21 79.48L487.48 80.76L488.74 82.03L490.01 83.29L491.29 84.55L492.57 85.81L493.85 87.06L495.14 88.30L496.43 89.54L497.73 90.78L499.03 92.00L500.34 93.23L501.65 94.44L502.96 95.65L504.28 96.86L505.61 98.05L506.94 99.24L508.28 100.43L509.62 101.60L510.97 102.77L512.32 103.94L513.68 105.09L515.05 106.24L516.42 107.38L517.80 108.52L519.18 109.64L520.57 110.76L521.96 111.87L523.37 112.97L524.77 114.06L526.19 115.15L527.61 116.22L529.04 117.29L530.47 118.35L531.91 119.40L533.36 120.44L534.81 121.47L536.28 122.49L537.75 123.50L539.22 124.50L540.71 125.50L542.20 126.48L543.69 127.45L545.20 128.41L546.72 129.36L548.24 130.30L549.77 131.24L551.30 132.16L552.85 133.06L554.40 133.96L555.96 134.85L557.53 135.72L559.11 136.59L560.70 137.44L562.29 138.28L563.90 139.11L565.50 139.93L567.12 140.74L568.74 141.54L570.37 142.34L572.00 143.12L573.64 143.90L575.28 144.67L576.92 145.43L578.57 146.19L580.23 146.94L581.88 147.69L583.54 148.43L585.21 149.17L586.87 149.90L588.53 150.63L590.20 151.36L591.87 152.08L593.53 152.81L595.20 153.53L596.87 154.25L598.54 154.97L600.20 155.69L601.86 156.41L603.53 157.14L605.19 157.86L606.84 158.59L608.50 159.32L610.15 160.05L611.79 160.79L613.44 161.53L615.07 162.27L616.71 163.02L618.33 163.78L619.96 164.54L621.57 165.31L623.18 166.08L624.78 166.87L626.38 167.66L627.97 168.46L629.55 169.26L631.12 170.08L632.68 170.91L634.23 171.75L635.78 172.60L637.31 173.46L638.84 174.33L640.35 175.21L641.85 176.11L643.34 177.02L644.82 177.95L646.29 178.88L647.74 179.84L649.18 180.81L650.61 181.79L652.02 182.79L653.42 183.81L654.81 184.84L656.17 185.89L657.52 186.97L658.84 188.06L660.14 189.18L661.40 190.33L662.64 191.50L663.84 192.70L665.00 193.93L666.13 195.20L667.21 196.50L668.25 197.84L669.24 199.22L670.18 200.63L671.07 202.09L671.90 203.60L672.68 205.15L673.39 206.75L674.05 208.40L674.64 210.11L675.16 211.87L675.61 213.69L675.99 215.57L676.33 217.49L676.63 219.44L676.92 221.39L677.29 223.33L677.72 225.22L678.18 227.07L678.68 228.84L679.24 230.52L679.87 232.08L680.60 233.50" stroke="#ff0000" stroke-width="2.90" fill="none" stroke-dasharray="6.5 3.2 1.4 3.2"/>
</g>
<rect x="552.60" y="10.20" width="124.20" height="51.70" fill="#fff" stroke="#262626" stroke-width="1.1"/>
<line x1="558.30" y1="19.80" x2="588.30" y2="19.80" stroke="#1c3aff" stroke-width="3"/><line x1="558.30" y1="36.25" x2="588.30" y2="36.25" stroke="#000" stroke-width="3" stroke-dasharray="6.22 5.67"/><line x1="558.30" y1="52.70" x2="588.30" y2="52.70" stroke="#ff0000" stroke-width="3" stroke-dasharray="1.37 3.38 6.22 3.29"/><text x="591.60" y="24.30" class="lg" style="font-size:12.50px;letter-spacing:0.60px">momo NF</text><text x="591.60" y="40.75" class="lg" style="font-size:12.50px;letter-spacing:0.60px">hybrid NF</text><text x="591.60" y="57.20" class="lg" style="font-size:12.50px;letter-spacing:0.60px">tri−hybrid NF</text>
<rect x="261.50" y="306.70" width="248.25" height="199.90" fill="none" stroke="#262626" stroke-width="1.15"/>
<line x1="261.50" y1="506.60" x2="261.50" y2="504.10" stroke="#262626" stroke-width="0.8"/><line x1="261.50" y1="306.70" x2="261.50" y2="309.20" stroke="#262626" stroke-width="0.8"/><line x1="344.25" y1="506.60" x2="344.25" y2="504.10" stroke="#262626" stroke-width="0.8"/><line x1="344.25" y1="306.70" x2="344.25" y2="309.20" stroke="#262626" stroke-width="0.8"/><line x1="427.00" y1="506.60" x2="427.00" y2="504.10" stroke="#262626" stroke-width="0.8"/><line x1="427.00" y1="306.70" x2="427.00" y2="309.20" stroke="#262626" stroke-width="0.8"/><line x1="509.75" y1="506.60" x2="509.75" y2="504.10" stroke="#262626" stroke-width="0.8"/><line x1="509.75" y1="306.70" x2="509.75" y2="309.20" stroke="#262626" stroke-width="0.8"/><line x1="261.50" y1="306.70" x2="264.00" y2="306.70" stroke="#262626" stroke-width="0.8"/><line x1="509.75" y1="306.70" x2="507.25" y2="306.70" stroke="#262626" stroke-width="0.8"/><line x1="261.50" y1="379.39" x2="264.00" y2="379.39" stroke="#262626" stroke-width="0.8"/><line x1="509.75" y1="379.39" x2="507.25" y2="379.39" stroke="#262626" stroke-width="0.8"/><line x1="261.50" y1="452.08" x2="264.00" y2="452.08" stroke="#262626" stroke-width="0.8"/><line x1="509.75" y1="452.08" x2="507.25" y2="452.08" stroke="#262626" stroke-width="0.8"/>
<text x="261.50" y="520.20" text-anchor="middle" class="tk" style="font-size:13.5px">0</text><text x="344.25" y="520.20" text-anchor="middle" class="tk" style="font-size:13.5px">0.8</text><text x="427.00" y="520.20" text-anchor="middle" class="tk" style="font-size:13.5px">1.6</text><text x="509.75" y="520.20" text-anchor="middle" class="tk" style="font-size:13.5px">2.4</text><text x="258.70" y="311.30" text-anchor="end" class="tk" style="font-size:13.5px">1</text><text x="258.70" y="383.99" text-anchor="end" class="tk" style="font-size:13.5px">0.6</text><text x="258.70" y="456.68" text-anchor="end" class="tk" style="font-size:13.5px">0.2</text>
<g>
<path d="M261.80 307.50L262.10 308.77L262.40 310.04L262.69 311.31L262.98 312.59L263.26 313.86L263.55 315.14L263.83 316.42L264.06 317.71L264.21 319.00L264.35 320.30L264.49 321.60L264.62 322.90L264.75 324.20L264.89 325.51L265.01 326.81L265.14 328.12L265.26 329.42L265.39 330.73L265.51 332.03L265.63 333.34L265.74 334.65L265.86 335.96L265.97 337.27L266.09 338.58L266.20 339.89L266.31 341.20L266.42 342.51L266.53 343.82L266.64 345.13L266.75 346.45L266.86 347.76L266.97 349.07L267.08 350.39L267.19 351.70L267.30 353.01L267.41 354.33L267.52 355.64L267.63 356.96L267.74 358.27L267.86 359.59L267.97 360.90L268.09 362.21L268.21 363.53L268.32 364.84L268.44 366.16L268.57 367.47L268.69 368.78L268.82 370.10L268.94 371.41L269.07 372.72L269.21 374.04L269.34 375.35L269.48 376.66L269.62 377.97L269.76 379.28L269.91 380.60L270.06 381.91L270.21 383.21L270.37 384.52L270.53 385.83L270.69 387.14L270.86 388.45L271.03 389.75L271.20 391.06L271.38 392.36L271.57 393.67L271.75 394.97L271.95 396.27L272.14 397.57L272.35 398.87L272.55 400.17L272.77 401.47L272.98 402.76L273.21 404.06L273.44 405.36L273.67 406.65L273.91 407.94L274.15 409.23L274.41 410.52L274.66 411.81L274.93 413.10L275.20 414.38L275.47 415.67L275.76 416.95L276.05 418.23L276.34 419.51L276.65 420.79L276.96 422.07L277.28 423.34L277.60 424.61L277.94 425.89L278.28 427.16L278.63 428.42L278.98 429.69L279.35 430.96L279.72 432.22L280.10 433.48L280.49 434.74L280.89 436.00L281.30 437.25L281.71 438.51L282.14 439.76L282.57 441.01L283.01 442.25L283.47 443.50L283.93 444.74L284.40 445.98L284.88 447.22L285.37 448.46L285.87 449.69L286.38 450.92L286.90 452.15L287.43 453.37L287.98 454.60L288.53 455.81L289.09 457.02L289.67 458.23L290.25 459.42L290.85 460.61L291.46 461.79L292.07 462.97L292.71 464.13L293.35 465.28L294.00 466.43L294.67 467.56L295.35 468.68L296.04 469.78L296.75 470.88L297.46 471.96L298.19 473.02L298.94 474.07L299.69 475.11L300.46 476.12L301.25 477.12L302.04 478.11L302.85 479.07L303.68 480.02L304.52 480.94L305.37 481.85L306.24 482.74L307.12 483.60L308.01 484.44L308.93 485.26L309.85 486.06L310.79 486.83L311.75 487.58L312.72 488.30L313.71 489.00L314.71 489.67L315.73 490.31L316.76 490.93L317.81 491.52L318.88 492.08L319.96 492.61L321.06 493.11L322.18 493.58L323.31 494.03L324.47 494.44L325.63 494.83L326.82 495.20L328.01 495.53L329.22 495.84L330.45 496.13L331.68 496.39L332.93 496.63L334.19 496.85L335.46 497.04L336.73 497.22L338.02 497.37L339.31 497.50L340.61 497.61L341.92 497.71L343.24 497.78L344.56 497.84L345.88 497.88L347.21 497.91L348.54 497.92L349.88 497.91L351.21 497.89L352.56 497.86L353.90 497.82L355.25 497.76L356.60 497.70L357.95 497.62L359.31 497.53L360.67 497.44L362.02 497.34L363.38 497.23L364.74 497.11L366.10 496.99L367.47 496.86L368.83 496.73L370.19 496.60L371.55 496.46L372.91 496.33L374.27 496.19L375.63 496.05L376.99 495.91L378.35 495.77L379.70 495.63L381.05 495.50L382.40 495.37L383.75 495.24L385.09 495.12L386.44 495.00L387.78 494.88L389.12 494.76L390.45 494.65L391.78 494.54L393.11 494.43L394.44 494.32L395.77 494.22L397.09 494.12L398.42 494.02L399.74 493.93L401.06 493.83L402.37 493.74L403.69 493.66L405.00 493.57L406.32 493.48L407.63 493.40L408.94 493.32L410.24 493.24L411.55 493.17L412.85 493.09L414.16 493.02L415.46 492.95L416.76 492.88L418.06 492.81L419.36 492.75L420.66 492.68L421.95 492.62L423.25 492.56L424.54 492.50L425.84 492.44L427.13 492.39L428.42 492.33L429.71 492.28L431.01 492.22L432.30 492.17L433.59 492.12L434.88 492.07L436.17 492.02L437.45 491.97L438.74 491.93L440.03 491.88L441.32 491.83L442.61 491.79L443.90 491.75L445.18 491.70L446.47 491.66L447.76 491.62L449.05 491.57L450.34 491.53L451.63 491.49L452.92 491.45L454.21 491.41L455.50 491.37L456.79 491.33L458.08 491.29L459.37 491.25L460.66 491.21L461.96 491.17L463.25 491.13L464.54 491.09L465.84 491.05L467.14 491.01L468.43 490.97L469.73 490.93L471.03 490.89L472.33 490.85L473.63 490.80L474.94 490.76L476.24 490.72L477.55 490.67L478.86 490.63L480.16 490.58L481.48 490.54L482.79 490.49L484.10 490.44L485.42 490.39L486.73 490.34L488.05 490.29L489.37 490.24L490.70 490.19L492.02 490.13L493.35 490.08L494.68 490.02L496.01 489.96L497.34 489.90L498.67 489.84L500.02 489.84L501.36 489.91L502.71 489.98L504.06 490.04L505.42 490.11L506.78 490.17L508.14 490.24L509.50 490.30" stroke="#1c3aff" stroke-width="2.90" fill="none"/>
<path d="M261.80 307.50L262.08 308.77L262.36 310.04L262.63 311.32L262.90 312.59L263.17 313.87L263.43 315.15L263.69 316.42L263.92 317.71L264.08 319.00L264.23 320.29L264.38 321.58L264.52 322.87L264.67 324.17L264.81 325.46L264.95 326.75L265.09 328.05L265.22 329.34L265.36 330.64L265.49 331.93L265.62 333.23L265.76 334.52L265.89 335.82L266.01 337.12L266.14 338.41L266.27 339.71L266.40 341.00L266.52 342.30L266.65 343.60L266.77 344.89L266.90 346.19L267.03 347.49L267.15 348.78L267.28 350.08L267.40 351.38L267.53 352.68L267.65 353.97L267.78 355.27L267.91 356.57L268.04 357.86L268.17 359.16L268.30 360.46L268.43 361.75L268.57 363.05L268.70 364.34L268.84 365.64L268.98 366.93L269.12 368.23L269.26 369.52L269.40 370.82L269.55 372.11L269.70 373.41L269.85 374.70L270.00 376.00L270.16 377.29L270.31 378.58L270.48 379.87L270.64 381.17L270.81 382.46L270.98 383.75L271.15 385.04L271.33 386.33L271.51 387.62L271.69 388.91L271.88 390.20L272.07 391.48L272.27 392.77L272.47 394.06L272.67 395.35L272.88 396.63L273.09 397.92L273.31 399.20L273.53 400.48L273.76 401.77L273.99 403.05L274.23 404.33L274.47 405.61L274.72 406.89L274.97 408.17L275.23 409.45L275.49 410.73L275.76 412.01L276.04 413.28L276.32 414.56L276.61 415.83L276.90 417.10L277.20 418.38L277.50 419.65L277.82 420.92L278.14 422.19L278.46 423.46L278.79 424.73L279.13 425.99L279.48 427.26L279.83 428.52L280.20 429.79L280.56 431.05L280.94 432.31L281.32 433.57L281.72 434.83L282.11 436.09L282.52 437.35L282.94 438.60L283.36 439.86L283.79 441.11L284.23 442.36L284.68 443.61L285.14 444.86L285.61 446.10L286.09 447.35L286.57 448.59L287.07 449.82L287.58 451.05L288.09 452.28L288.62 453.50L289.16 454.71L289.71 455.92L290.28 457.11L290.85 458.30L291.44 459.48L292.04 460.65L292.65 461.81L293.28 462.96L293.92 464.09L294.57 465.21L295.23 466.32L295.92 467.42L296.61 468.50L297.32 469.56L298.05 470.61L298.79 471.63L299.54 472.65L300.32 473.64L301.10 474.61L301.91 475.57L302.73 476.50L303.57 477.41L304.42 478.31L305.30 479.18L306.19 480.03L307.09 480.86L308.01 481.66L308.95 482.45L309.90 483.21L310.87 483.95L311.86 484.67L312.86 485.37L313.87 486.05L314.90 486.70L315.95 487.33L317.01 487.93L318.08 488.52L319.17 489.08L320.28 489.61L321.40 490.13L322.53 490.61L323.68 491.08L324.84 491.52L326.01 491.94L327.20 492.34L328.39 492.72L329.60 493.07L330.82 493.41L332.05 493.72L333.29 494.02L334.53 494.29L335.79 494.55L337.05 494.79L338.32 495.01L339.60 495.21L340.88 495.40L342.17 495.56L343.46 495.72L344.75 495.86L346.05 495.98L347.35 496.09L348.66 496.18L349.97 496.26L351.28 496.33L352.59 496.38L353.91 496.43L355.22 496.46L356.54 496.48L357.87 496.49L359.19 496.49L360.51 496.48L361.84 496.46L363.17 496.43L364.50 496.39L365.83 496.35L367.16 496.30L368.49 496.24L369.83 496.18L371.16 496.11L372.49 496.03L373.83 495.96L375.16 495.87L376.49 495.79L377.83 495.70L379.16 495.61L380.49 495.51L381.82 495.42L383.16 495.32L384.48 495.22L385.81 495.12L387.14 495.02L388.47 494.92L389.79 494.82L391.12 494.72L392.44 494.62L393.76 494.51L395.08 494.41L396.40 494.31L397.72 494.20L399.04 494.10L400.36 493.99L401.67 493.89L402.99 493.79L404.30 493.68L405.61 493.58L406.93 493.48L408.24 493.38L409.55 493.28L410.85 493.18L412.16 493.08L413.47 492.98L414.77 492.89L416.08 492.79L417.38 492.70L418.69 492.61L419.99 492.52L421.29 492.43L422.59 492.34L423.89 492.26L425.18 492.18L426.48 492.09L427.77 492.02L429.07 491.94L430.36 491.87L431.65 491.80L432.95 491.73L434.24 491.66L435.53 491.60L436.81 491.54L438.10 491.48L439.39 491.43L440.67 491.38L441.96 491.33L443.24 491.29L444.52 491.25L445.80 491.22L447.08 491.18L448.36 491.16L449.64 491.13L450.92 491.11L452.20 491.09L453.47 491.08L454.75 491.07L456.02 491.07L457.29 491.06L458.56 491.06L459.84 491.06L461.11 491.06L462.38 491.06L463.65 491.07L464.93 491.07L466.20 491.08L467.47 491.08L468.75 491.09L470.02 491.09L471.30 491.10L472.58 491.10L473.86 491.10L475.14 491.10L476.42 491.10L477.70 491.09L478.99 491.08L480.28 491.07L481.57 491.06L482.86 491.04L484.15 491.02L485.45 490.99L486.75 490.96L488.05 490.93L489.36 490.89L490.67 490.84L491.98 490.79L493.29 490.73L494.61 490.67L495.94 490.60L497.26 490.52L498.60 490.43L499.93 490.38L501.28 490.38L502.64 490.38L504.00 490.37L505.36 490.36L506.73 490.33L508.11 490.29L509.50 490.25" stroke="#1c3aff" stroke-width="2.90" fill="none"/>
<path d="M261.80 307.50L262.06 308.78L262.32 310.05L262.57 311.33L262.82 312.60L263.07 313.88L263.32 315.15L263.56 316.43L263.78 317.71L263.95 318.99L264.11 320.28L264.27 321.56L264.42 322.85L264.58 324.13L264.73 325.42L264.88 326.70L265.03 327.99L265.18 329.27L265.33 330.55L265.48 331.84L265.62 333.12L265.77 334.40L265.91 335.69L266.06 336.97L266.20 338.25L266.34 339.53L266.48 340.82L266.62 342.10L266.77 343.38L266.91 344.66L267.05 345.94L267.19 347.22L267.33 348.50L267.47 349.78L267.61 351.06L267.76 352.34L267.90 353.62L268.04 354.90L268.19 356.18L268.33 357.46L268.48 358.74L268.63 360.02L268.78 361.29L268.93 362.57L269.08 363.85L269.23 365.13L269.39 366.40L269.54 367.68L269.70 368.96L269.86 370.23L270.02 371.51L270.19 372.78L270.35 374.06L270.52 375.33L270.69 376.61L270.87 377.88L271.04 379.16L271.22 380.43L271.40 381.70L271.59 382.98L271.78 384.25L271.97 385.52L272.16 386.80L272.36 388.07L272.56 389.34L272.76 390.61L272.97 391.88L273.18 393.15L273.40 394.42L273.62 395.70L273.84 396.97L274.07 398.24L274.30 399.50L274.54 400.77L274.78 402.04L275.02 403.31L275.27 404.58L275.53 405.85L275.79 407.12L276.05 408.38L276.32 409.65L276.60 410.92L276.88 412.18L277.16 413.45L277.45 414.71L277.75 415.98L278.05 417.25L278.36 418.51L278.67 419.77L278.99 421.04L279.32 422.30L279.65 423.57L279.99 424.83L280.33 426.09L280.68 427.36L281.04 428.62L281.41 429.88L281.78 431.14L282.15 432.40L282.54 433.66L282.93 434.92L283.33 436.18L283.74 437.44L284.15 438.70L284.57 439.96L285.00 441.22L285.44 442.48L285.88 443.73L286.34 444.99L286.80 446.23L287.27 447.48L287.76 448.72L288.25 449.95L288.75 451.18L289.27 452.40L289.79 453.61L290.33 454.81L290.89 456.00L291.45 457.18L292.03 458.35L292.62 459.51L293.23 460.65L293.85 461.79L294.48 462.90L295.13 464.01L295.80 465.09L296.48 466.16L297.18 467.21L297.90 468.25L298.63 469.26L299.39 470.25L300.16 471.23L300.94 472.18L301.75 473.11L302.58 474.02L303.43 474.91L304.29 475.77L305.18 476.61L306.09 477.43L307.01 478.22L307.96 478.99L308.92 479.74L309.90 480.47L310.90 481.18L311.91 481.87L312.94 482.53L313.98 483.18L315.04 483.80L316.12 484.41L317.21 485.00L318.31 485.56L319.42 486.11L320.55 486.64L321.69 487.15L322.84 487.65L324.00 488.12L325.18 488.58L326.36 489.02L327.55 489.44L328.75 489.85L329.97 490.24L331.18 490.61L332.41 490.97L333.64 491.31L334.88 491.64L336.13 491.95L337.38 492.25L338.64 492.53L339.90 492.80L341.16 493.05L342.43 493.29L343.70 493.52L344.97 493.73L346.25 493.93L347.53 494.12L348.81 494.29L350.09 494.46L351.37 494.61L352.66 494.75L353.94 494.88L355.23 494.99L356.52 495.10L357.82 495.19L359.11 495.28L360.40 495.36L361.70 495.42L363.00 495.48L364.30 495.52L365.60 495.56L366.90 495.59L368.20 495.61L369.50 495.62L370.81 495.62L372.11 495.62L373.42 495.61L374.73 495.59L376.04 495.56L377.34 495.53L378.65 495.49L379.96 495.44L381.28 495.39L382.59 495.33L383.90 495.27L385.21 495.20L386.52 495.13L387.84 495.05L389.15 494.97L390.47 494.88L391.78 494.79L393.09 494.69L394.41 494.60L395.72 494.49L397.04 494.39L398.35 494.28L399.66 494.17L400.98 494.06L402.29 493.95L403.60 493.83L404.92 493.71L406.23 493.59L407.54 493.47L408.85 493.35L410.16 493.23L411.47 493.11L412.78 492.99L414.09 492.87L415.40 492.75L416.71 492.63L418.01 492.52L419.32 492.40L420.62 492.29L421.93 492.17L423.23 492.06L424.53 491.95L425.83 491.85L427.13 491.75L428.43 491.65L429.72 491.55L431.02 491.46L432.31 491.37L433.60 491.28L434.89 491.21L436.18 491.13L437.47 491.06L438.75 490.99L440.03 490.94L441.32 490.88L442.59 490.83L443.87 490.79L445.15 490.76L446.42 490.73L447.69 490.71L448.96 490.69L450.23 490.69L451.49 490.69L452.76 490.70L454.02 490.71L455.27 490.73L456.53 490.76L457.79 490.79L459.04 490.83L460.29 490.87L461.54 490.91L462.79 490.96L464.05 491.01L465.30 491.06L466.55 491.11L467.80 491.16L469.05 491.21L470.30 491.26L471.56 491.31L472.81 491.35L474.07 491.40L475.32 491.44L476.58 491.48L477.85 491.51L479.11 491.54L480.38 491.56L481.65 491.58L482.92 491.59L484.20 491.59L485.48 491.59L486.76 491.58L488.05 491.56L489.34 491.53L490.64 491.49L491.94 491.44L493.24 491.38L494.56 491.31L495.87 491.23L497.20 491.13L498.52 491.02L499.86 490.92L501.21 490.86L502.57 490.79L503.94 490.71L505.31 490.61L506.70 490.49L508.09 490.35L509.50 490.20" stroke="#1c3aff" stroke-width="2.90" fill="none"/>
<path d="M261.80 307.50L261.97 308.79L262.14 310.07L262.30 311.36L262.46 312.65L262.62 313.94L262.77 315.23L262.92 316.52L263.07 317.82L263.21 319.11L263.35 320.41L263.49 321.71L263.63 323.01L263.76 324.31L263.89 325.61L264.02 326.91L264.14 328.21L264.27 329.51L264.39 330.82L264.51 332.12L264.63 333.43L264.75 334.74L264.86 336.04L264.98 337.35L265.09 338.66L265.20 339.97L265.31 341.28L265.43 342.59L265.54 343.90L265.65 345.22L265.76 346.53L265.86 347.84L265.97 349.15L266.08 350.47L266.19 351.78L266.30 353.10L266.41 354.41L266.52 355.73L266.64 357.04L266.75 358.36L266.86 359.67L266.98 360.99L267.09 362.30L267.21 363.62L267.33 364.93L267.45 366.25L267.57 367.56L267.69 368.88L267.82 370.19L267.95 371.51L268.08 372.82L268.21 374.14L268.35 375.45L268.48 376.77L268.62 378.08L268.77 379.39L268.91 380.71L269.06 382.02L269.22 383.33L269.37 384.64L269.53 385.95L269.70 387.26L269.87 388.57L270.04 389.88L270.21 391.19L270.39 392.50L270.58 393.81L270.77 395.11L270.96 396.42L271.16 397.72L271.36 399.03L271.57 400.33L271.78 401.63L272.00 402.93L272.22 404.23L272.45 405.53L272.69 406.83L272.93 408.13L273.17 409.42L273.42 410.72L273.68 412.01L273.95 413.30L274.22 414.59L274.50 415.88L274.78 417.17L275.07 418.45L275.37 419.74L275.68 421.02L275.99 422.31L276.31 423.59L276.64 424.86L276.97 426.14L277.31 427.42L277.66 428.69L278.02 429.97L278.39 431.24L278.76 432.51L279.15 433.77L279.54 435.04L279.94 436.30L280.35 437.56L280.77 438.82L281.19 440.08L281.63 441.34L282.07 442.59L282.53 443.84L282.99 445.09L283.47 446.34L283.95 447.59L284.44 448.83L284.95 450.07L285.46 451.31L285.98 452.54L286.52 453.78L287.06 455.01L287.62 456.23L288.19 457.45L288.77 458.66L289.35 459.87L289.96 461.07L290.57 462.26L291.19 463.44L291.83 464.61L292.48 465.78L293.14 466.93L293.81 468.07L294.50 469.20L295.20 470.32L295.91 471.42L296.64 472.52L297.37 473.59L298.13 474.66L298.89 475.70L299.67 476.73L300.47 477.75L301.27 478.74L302.09 479.72L302.93 480.68L303.78 481.62L304.65 482.54L305.53 483.44L306.43 484.32L307.34 485.18L308.26 486.01L309.21 486.82L310.17 487.61L311.14 488.37L312.13 489.11L313.14 489.82L314.16 490.51L315.20 491.16L316.26 491.79L317.33 492.40L318.42 492.97L319.53 493.51L320.66 494.03L321.80 494.51L322.96 494.96L324.14 495.39L325.33 495.79L326.53 496.16L327.75 496.50L328.98 496.81L330.23 497.11L331.48 497.37L332.75 497.62L334.03 497.84L335.31 498.03L336.61 498.21L337.91 498.36L339.22 498.50L340.54 498.61L341.86 498.70L343.19 498.78L344.52 498.84L345.85 498.88L347.19 498.91L348.54 498.92L349.88 498.91L351.23 498.89L352.58 498.86L353.94 498.82L355.30 498.76L356.65 498.70L358.01 498.62L359.38 498.53L360.74 498.44L362.10 498.33L363.47 498.22L364.83 498.11L366.20 497.99L367.56 497.86L368.92 497.73L370.29 497.60L371.65 497.46L373.01 497.32L374.37 497.18L375.73 497.04L377.09 496.90L378.45 496.76L379.80 496.63L381.15 496.49L382.50 496.36L383.84 496.24L385.19 496.11L386.53 495.99L387.86 495.87L389.20 495.76L390.53 495.64L391.87 495.53L393.19 495.43L394.52 495.32L395.85 495.22L397.17 495.12L398.49 495.02L399.81 494.93L401.13 494.83L402.44 494.74L403.76 494.65L405.07 494.57L406.38 494.48L407.69 494.40L409.00 494.32L410.30 494.24L411.61 494.17L412.91 494.09L414.21 494.02L415.51 493.95L416.81 493.88L418.11 493.81L419.41 493.75L420.70 493.68L422.00 493.62L423.29 493.56L424.59 493.50L425.88 493.44L427.17 493.39L428.46 493.33L429.76 493.28L431.05 493.22L432.34 493.17L433.63 493.12L434.91 493.07L436.20 493.02L437.49 492.97L438.78 492.93L440.07 492.88L441.36 492.83L442.64 492.79L443.93 492.74L445.22 492.70L446.51 492.66L447.79 492.62L449.08 492.57L450.37 492.53L451.66 492.49L452.95 492.45L454.24 492.41L455.53 492.37L456.82 492.33L458.11 492.29L459.40 492.25L460.69 492.21L461.99 492.17L463.28 492.13L464.58 492.09L465.87 492.05L467.17 492.01L468.47 491.97L469.76 491.93L471.06 491.89L472.37 491.84L473.67 491.80L474.97 491.76L476.28 491.72L477.58 491.67L478.89 491.63L480.20 491.58L481.51 491.54L482.82 491.49L484.14 491.44L485.45 491.39L486.77 491.34L488.09 491.29L489.41 491.24L490.74 491.19L492.06 491.13L493.39 491.08L494.72 491.02L496.05 490.96L497.38 490.90L498.72 490.84L500.06 490.78L501.40 490.72L502.74 490.65L504.09 490.58L505.44 490.52L506.79 490.45L508.14 490.37L509.50 490.30" stroke="#000" stroke-width="2.90" fill="none" stroke-dasharray="6.3 5.5"/>
<path d="M261.80 307.50L261.98 308.79L262.15 310.07L262.32 311.36L262.49 312.65L262.65 313.93L262.81 315.22L262.97 316.51L263.13 317.80L263.28 319.09L263.43 320.38L263.58 321.67L263.73 322.96L263.87 324.26L264.01 325.55L264.15 326.84L264.29 328.13L264.43 329.43L264.56 330.72L264.70 332.01L264.83 333.31L264.96 334.60L265.09 335.90L265.22 337.19L265.35 338.49L265.47 339.79L265.60 341.08L265.73 342.38L265.85 343.67L265.98 344.97L266.10 346.27L266.23 347.56L266.35 348.86L266.48 350.16L266.61 351.46L266.73 352.75L266.86 354.05L266.99 355.35L267.11 356.64L267.24 357.94L267.37 359.24L267.50 360.54L267.64 361.83L267.77 363.13L267.91 364.43L268.04 365.72L268.18 367.02L268.32 368.32L268.46 369.61L268.61 370.91L268.75 372.20L268.90 373.50L269.05 374.80L269.21 376.09L269.36 377.39L269.52 378.68L269.68 379.97L269.85 381.27L270.01 382.56L270.18 383.85L270.36 385.15L270.54 386.44L270.72 387.73L270.90 389.02L271.09 390.31L271.28 391.60L271.48 392.89L271.68 394.18L271.88 395.47L272.09 396.76L272.31 398.05L272.52 399.34L272.75 400.62L272.97 401.91L273.21 403.19L273.44 404.48L273.69 405.76L273.93 407.05L274.19 408.33L274.45 409.61L274.71 410.89L274.98 412.17L275.26 413.45L275.54 414.73L275.83 416.01L276.12 417.29L276.42 418.56L276.73 419.84L277.04 421.11L277.36 422.39L277.69 423.66L278.02 424.93L278.36 426.20L278.71 427.47L279.06 428.74L279.43 430.01L279.80 431.28L280.17 432.54L280.56 433.81L280.95 435.07L281.35 436.33L281.76 437.59L282.18 438.86L282.60 440.11L283.04 441.37L283.48 442.63L283.93 443.88L284.39 445.14L284.86 446.39L285.34 447.64L285.83 448.88L286.33 450.12L286.84 451.36L287.36 452.59L287.89 453.82L288.43 455.04L288.99 456.25L289.55 457.46L290.13 458.66L290.72 459.84L291.33 461.02L291.95 462.19L292.58 463.35L293.22 464.49L293.88 465.62L294.55 466.74L295.24 467.84L295.94 468.93L296.66 470.01L297.39 471.07L298.14 472.11L298.91 473.13L299.69 474.14L300.49 475.12L301.30 476.09L302.14 477.04L302.99 477.96L303.85 478.87L304.74 479.75L305.64 480.61L306.56 481.45L307.49 482.27L308.44 483.07L309.41 483.84L310.39 484.59L311.39 485.32L312.41 486.03L313.44 486.72L314.48 487.38L315.54 488.02L316.62 488.63L317.71 489.22L318.82 489.79L319.94 490.34L321.07 490.86L322.22 491.35L323.38 491.82L324.56 492.27L325.75 492.70L326.95 493.10L328.16 493.48L329.38 493.84L330.61 494.18L331.86 494.50L333.11 494.80L334.37 495.07L335.64 495.33L336.91 495.57L338.19 495.80L339.48 496.00L340.77 496.19L342.07 496.36L343.37 496.51L344.67 496.65L345.98 496.78L347.29 496.88L348.60 496.98L349.92 497.06L351.24 497.13L352.56 497.18L353.88 497.23L355.21 497.26L356.53 497.28L357.86 497.29L359.19 497.29L360.52 497.28L361.86 497.26L363.19 497.23L364.52 497.19L365.86 497.15L367.19 497.10L368.53 497.04L369.87 496.98L371.20 496.91L372.54 496.83L373.88 496.75L375.21 496.67L376.55 496.59L377.88 496.50L379.22 496.40L380.55 496.31L381.88 496.21L383.21 496.12L384.54 496.02L385.87 495.92L387.20 495.82L388.53 495.72L389.85 495.62L391.18 495.52L392.50 495.41L393.82 495.31L395.15 495.21L396.47 495.10L397.78 495.00L399.10 494.90L400.42 494.79L401.74 494.69L403.05 494.58L404.36 494.48L405.68 494.38L406.99 494.28L408.30 494.18L409.61 494.08L410.92 493.98L412.22 493.88L413.53 493.78L414.83 493.69L416.14 493.59L417.44 493.50L418.74 493.41L420.04 493.32L421.34 493.23L422.64 493.14L423.94 493.06L425.23 492.97L426.53 492.89L427.82 492.81L429.12 492.74L430.41 492.67L431.70 492.60L432.99 492.53L434.28 492.46L435.56 492.40L436.85 492.34L438.14 492.28L439.42 492.23L440.70 492.18L441.99 492.13L443.27 492.09L444.55 492.05L445.83 492.02L447.10 491.98L448.38 491.95L449.66 491.93L450.93 491.91L452.20 491.89L453.48 491.88L454.75 491.87L456.02 491.87L457.29 491.86L458.57 491.86L459.84 491.86L461.11 491.86L462.38 491.86L463.65 491.87L464.92 491.87L466.20 491.88L467.47 491.88L468.75 491.89L470.02 491.89L471.30 491.90L472.58 491.90L473.86 491.90L475.14 491.90L476.42 491.90L477.71 491.89L478.99 491.88L480.28 491.87L481.58 491.86L482.87 491.84L484.17 491.82L485.47 491.79L486.77 491.76L488.08 491.73L489.38 491.69L490.70 491.64L492.01 491.59L493.33 491.53L494.65 491.47L495.98 491.40L497.31 491.32L498.65 491.23L499.99 491.14L501.33 491.04L502.68 490.93L504.04 490.81L505.39 490.69L506.76 490.55L508.13 490.40L509.50 490.25" stroke="#000" stroke-width="2.90" fill="none" stroke-dasharray="6.3 5.5"/>
<path d="M261.80 307.50L261.98 308.79L262.16 310.07L262.34 311.36L262.51 312.64L262.69 313.93L262.86 315.21L263.02 316.50L263.19 317.78L263.35 319.07L263.51 320.35L263.67 321.64L263.83 322.92L263.98 324.21L264.14 325.49L264.29 326.77L264.44 328.06L264.59 329.34L264.74 330.62L264.88 331.91L265.03 333.19L265.17 334.47L265.32 335.75L265.46 337.04L265.60 338.32L265.74 339.60L265.89 340.88L266.03 342.16L266.17 343.45L266.31 344.73L266.45 346.01L266.59 347.29L266.73 348.57L266.88 349.85L267.02 351.13L267.16 352.41L267.30 353.69L267.45 354.97L267.59 356.25L267.74 357.53L267.88 358.81L268.03 360.08L268.18 361.36L268.33 362.64L268.48 363.92L268.64 365.20L268.79 366.48L268.95 367.75L269.10 369.03L269.26 370.31L269.43 371.58L269.59 372.86L269.76 374.14L269.93 375.41L270.10 376.69L270.27 377.96L270.45 379.24L270.63 380.52L270.81 381.79L270.99 383.06L271.18 384.34L271.37 385.61L271.57 386.89L271.77 388.16L271.97 389.43L272.17 390.71L272.38 391.98L272.59 393.25L272.81 394.53L273.03 395.80L273.25 397.07L273.48 398.34L273.71 399.61L273.95 400.88L274.19 402.16L274.44 403.43L274.69 404.70L274.94 405.97L275.20 407.24L275.47 408.51L275.74 409.78L276.01 411.04L276.29 412.31L276.58 413.58L276.87 414.85L277.17 416.12L277.47 417.39L277.78 418.65L278.09 419.92L278.41 421.19L278.74 422.45L279.07 423.72L279.41 424.99L279.75 426.25L280.11 427.52L280.46 428.78L280.83 430.05L281.20 431.31L281.58 432.58L281.97 433.84L282.36 435.10L282.76 436.37L283.17 437.63L283.58 438.89L284.00 440.15L284.43 441.42L284.87 442.68L285.32 443.94L285.77 445.19L286.24 446.45L286.71 447.69L287.20 448.94L287.69 450.18L288.20 451.41L288.72 452.63L289.25 453.85L289.79 455.06L290.34 456.26L290.91 457.44L291.49 458.62L292.09 459.79L292.70 460.94L293.32 462.08L293.96 463.20L294.62 464.31L295.29 465.41L295.98 466.49L296.69 467.55L297.41 468.59L298.15 469.62L298.91 470.62L299.69 471.61L300.49 472.57L301.30 473.51L302.14 474.43L303.00 475.33L303.88 476.20L304.77 477.05L305.69 477.88L306.63 478.68L307.58 479.46L308.56 480.22L309.55 480.96L310.55 481.67L311.58 482.37L312.62 483.04L313.67 483.69L314.74 484.32L315.83 484.94L316.93 485.53L318.04 486.10L319.16 486.65L320.30 487.19L321.45 487.70L322.61 488.20L323.78 488.68L324.96 489.14L326.16 489.58L327.36 490.01L328.57 490.42L329.79 490.81L331.01 491.19L332.25 491.55L333.49 491.89L334.73 492.22L335.99 492.53L337.24 492.83L338.51 493.11L339.77 493.38L341.05 493.64L342.32 493.88L343.60 494.11L344.88 494.32L346.16 494.52L347.44 494.71L348.73 494.89L350.02 495.05L351.30 495.20L352.60 495.34L353.89 495.47L355.18 495.59L356.48 495.70L357.77 495.79L359.07 495.88L360.37 495.95L361.67 496.02L362.97 496.08L364.28 496.12L365.58 496.16L366.89 496.19L368.19 496.21L369.50 496.22L370.81 496.22L372.12 496.22L373.43 496.21L374.74 496.19L376.05 496.16L377.36 496.13L378.67 496.09L379.99 496.04L381.30 495.99L382.62 495.93L383.93 495.87L385.24 495.80L386.56 495.73L387.87 495.65L389.19 495.57L390.51 495.48L391.82 495.39L393.14 495.29L394.45 495.19L395.77 495.09L397.08 494.99L398.40 494.88L399.71 494.77L401.03 494.66L402.34 494.54L403.66 494.43L404.97 494.31L406.28 494.19L407.60 494.07L408.91 493.95L410.22 493.83L411.53 493.71L412.84 493.59L414.15 493.47L415.45 493.35L416.76 493.23L418.07 493.11L419.37 493.00L420.68 492.88L421.98 492.77L423.28 492.66L424.58 492.55L425.88 492.45L427.17 492.34L428.47 492.24L429.77 492.15L431.06 492.06L432.35 491.97L433.64 491.88L434.93 491.80L436.21 491.73L437.50 491.66L438.78 491.59L440.06 491.53L441.34 491.48L442.62 491.43L443.89 491.39L445.16 491.36L446.43 491.33L447.70 491.31L448.97 491.29L450.23 491.29L451.49 491.29L452.75 491.30L454.01 491.31L455.26 491.33L456.52 491.36L457.77 491.39L459.02 491.43L460.27 491.47L461.52 491.51L462.77 491.56L464.02 491.61L465.27 491.65L466.52 491.71L467.77 491.76L469.03 491.81L470.28 491.86L471.53 491.91L472.79 491.95L474.05 492.00L475.31 492.04L476.57 492.08L477.83 492.11L479.10 492.14L480.37 492.16L481.64 492.18L482.92 492.19L484.20 492.19L485.48 492.19L486.77 492.18L488.06 492.16L489.36 492.13L490.66 492.09L491.96 492.04L493.27 491.98L494.59 491.91L495.91 491.83L497.24 491.73L498.58 491.62L499.92 491.50L501.26 491.36L502.62 491.21L503.98 491.04L505.35 490.85L506.72 490.65L508.11 490.44L509.50 490.20" stroke="#000" stroke-width="2.90" fill="none" stroke-dasharray="6.3 5.5"/>
<path d="M261.80 307.50L261.99 308.77L262.17 310.04L262.35 311.31L262.53 312.57L262.70 313.84L262.87 315.11L263.04 316.38L263.20 317.65L263.37 318.92L263.52 320.18L263.68 321.45L263.83 322.72L263.98 323.99L264.13 325.26L264.28 326.53L264.42 327.79L264.57 329.06L264.71 330.33L264.85 331.60L264.98 332.87L265.12 334.14L265.25 335.40L265.38 336.67L265.54 337.94L265.72 339.20L265.90 340.46L266.08 341.72L266.26 342.98L266.44 344.25L266.61 345.51L266.79 346.77L266.96 348.03L267.14 349.29L267.32 350.56L267.49 351.82L267.67 353.08L267.84 354.34L268.02 355.60L268.19 356.87L268.37 358.13L268.55 359.39L268.73 360.65L268.90 361.91L269.08 363.18L269.27 364.44L269.45 365.70L269.63 366.96L269.81 368.22L270.00 369.48L270.19 370.75L270.38 372.01L270.57 373.27L270.76 374.53L270.96 375.79L271.15 377.05L271.35 378.31L271.55 379.57L271.76 380.83L271.96 382.09L272.17 383.35L272.39 384.61L272.60 385.87L272.82 387.13L273.04 388.39L273.26 389.64L273.49 390.90L273.72 392.16L273.95 393.42L274.19 394.67L274.43 395.93L274.68 397.19L274.93 398.44L275.18 399.70L275.44 400.95L275.70 402.21L275.97 403.46L276.24 404.72L276.51 405.97L276.79 407.22L277.08 408.48L277.37 409.73L277.66 410.98L277.96 412.23L278.27 413.48L278.58 414.73L278.90 415.98L279.22 417.23L279.54 418.48L279.88 419.73L280.22 420.98L280.56 422.22L280.91 423.47L281.27 424.72L281.63 425.96L282.00 427.21L282.38 428.45L282.76 429.69L283.16 430.94L283.55 432.18L283.96 433.42L284.37 434.66L284.79 435.90L285.21 437.14L285.64 438.38L286.09 439.62L286.53 440.86L286.99 442.09L287.45 443.33L287.93 444.56L288.41 445.79L288.90 447.02L289.41 448.25L289.92 449.46L290.44 450.68L290.98 451.88L291.52 453.08L292.08 454.28L292.65 455.46L293.24 456.64L293.83 457.80L294.45 458.95L295.07 460.10L295.71 461.23L296.37 462.35L297.04 463.45L297.72 464.54L298.42 465.62L299.14 466.68L299.88 467.72L300.63 468.75L301.41 469.76L302.20 470.75L303.01 471.72L303.84 472.67L304.69 473.60L305.55 474.50L306.44 475.39L307.35 476.25L308.29 477.09L309.24 477.90L310.22 478.69L311.21 479.45L312.23 480.18L313.26 480.89L314.31 481.58L315.38 482.24L316.46 482.88L317.56 483.49L318.68 484.09L319.81 484.66L320.95 485.21L322.11 485.74L323.28 486.25L324.46 486.74L325.65 487.21L326.85 487.66L328.06 488.10L329.28 488.52L330.51 488.91L331.75 489.29L332.99 489.65L334.24 490.00L335.50 490.33L336.76 490.65L338.03 490.96L339.29 491.25L340.56 491.53L341.84 491.80L343.11 492.05L344.39 492.30L345.66 492.53L346.94 492.76L348.22 492.97L349.49 493.18L350.77 493.37L352.05 493.56L353.33 493.74L354.61 493.90L355.89 494.06L357.17 494.21L358.45 494.35L359.73 494.49L361.01 494.61L362.29 494.72L363.57 494.83L364.85 494.93L366.13 495.02L367.42 495.11L368.70 495.18L369.98 495.25L371.26 495.31L372.55 495.37L373.83 495.41L375.12 495.46L376.40 495.49L377.68 495.52L378.97 495.54L380.25 495.55L381.54 495.56L382.82 495.56L384.11 495.56L385.39 495.55L386.68 495.54L387.96 495.52L389.25 495.49L390.54 495.46L391.82 495.43L393.11 495.39L394.39 495.34L395.68 495.29L396.97 495.24L398.25 495.18L399.54 495.12L400.83 495.06L402.11 494.99L403.40 494.91L404.69 494.84L405.97 494.76L407.26 494.67L408.55 494.59L409.83 494.50L411.12 494.41L412.41 494.31L413.69 494.21L414.98 494.12L416.27 494.01L417.55 493.91L418.84 493.80L420.13 493.70L421.41 493.59L422.70 493.48L423.99 493.37L425.27 493.25L426.56 493.14L427.84 493.03L429.13 492.91L430.41 492.79L431.70 492.68L432.98 492.56L434.27 492.44L435.55 492.33L436.84 492.21L438.12 492.09L439.41 491.98L440.69 491.86L441.98 491.74L443.26 491.63L444.54 491.52L445.83 491.40L447.11 491.29L448.39 491.18L449.67 491.08L450.96 490.97L452.24 490.87L453.52 490.76L454.80 490.66L456.08 490.56L457.36 490.47L458.64 490.37L459.92 490.28L461.20 490.20L462.48 490.11L463.76 490.03L465.04 489.95L466.32 489.88L467.60 489.80L468.87 489.74L470.15 489.67L471.43 489.61L472.70 489.56L473.98 489.51L475.25 489.46L476.53 489.42L477.80 489.38L479.08 489.34L480.35 489.32L481.62 489.29L482.89 489.28L484.17 489.26L485.44 489.26L486.71 489.26L487.98 489.26L489.25 489.27L490.52 489.29L491.78 489.31L493.05 489.34L494.32 489.38L495.59 489.42L496.85 489.47L498.12 489.53L499.38 489.59L500.65 489.66L501.91 489.74L503.17 489.83L504.44 489.92L505.70 490.02L506.96 490.13L508.22 490.25L509.48 490.38" stroke="#ff0000" stroke-width="2.90" fill="none" stroke-dasharray="6.5 3.2 1.4 3.2"/>
<path d="M261.80 307.50L262.04 308.76L262.27 310.02L262.50 311.28L262.73 312.54L262.95 313.80L263.17 315.06L263.39 316.32L263.61 317.58L263.82 318.84L264.03 320.10L264.24 321.36L264.44 322.62L264.64 323.88L264.84 325.15L265.04 326.41L265.23 327.67L265.43 328.93L265.62 330.19L265.81 331.46L265.99 332.72L266.18 333.98L266.36 335.24L266.55 336.50L266.73 337.77L266.91 339.03L267.09 340.29L267.27 341.55L267.45 342.82L267.62 344.08L267.80 345.34L267.98 346.60L268.15 347.87L268.33 349.13L268.50 350.39L268.68 351.65L268.85 352.91L269.03 354.18L269.21 355.44L269.38 356.70L269.56 357.96L269.74 359.22L269.91 360.48L270.09 361.75L270.27 363.01L270.45 364.27L270.63 365.53L270.82 366.79L271.00 368.05L271.19 369.31L271.37 370.57L271.56 371.83L271.75 373.09L271.95 374.35L272.14 375.61L272.34 376.86L272.54 378.12L272.74 379.38L272.94 380.64L273.15 381.90L273.36 383.15L273.57 384.41L273.78 385.66L274.00 386.92L274.22 388.18L274.44 389.43L274.67 390.69L274.90 391.94L275.13 393.19L275.37 394.45L275.61 395.70L275.86 396.95L276.11 398.21L276.36 399.46L276.61 400.71L276.88 401.96L277.14 403.21L277.41 404.46L277.69 405.71L277.96 406.96L278.25 408.21L278.54 409.46L278.83 410.70L279.13 411.95L279.43 413.20L279.74 414.44L280.06 415.69L280.38 416.93L280.70 418.17L281.04 419.42L281.37 420.66L281.72 421.90L282.07 423.14L282.42 424.38L282.79 425.62L283.15 426.86L283.53 428.10L283.91 429.34L284.30 430.58L284.69 431.81L285.10 433.05L285.51 434.28L285.92 435.52L286.35 436.75L286.78 437.98L287.21 439.21L287.66 440.45L288.11 441.68L288.58 442.90L289.05 444.13L289.53 445.35L290.02 446.57L290.51 447.78L291.02 448.99L291.54 450.20L292.07 451.39L292.61 452.58L293.17 453.76L293.73 454.93L294.31 456.09L294.90 457.25L295.50 458.39L296.12 459.51L296.75 460.63L297.40 461.73L298.06 462.82L298.73 463.90L299.42 464.95L300.13 466.00L300.85 467.02L301.59 468.03L302.35 469.02L303.13 469.99L303.92 470.94L304.73 471.87L305.56 472.78L306.41 473.66L307.28 474.53L308.17 475.37L309.08 476.19L310.01 476.98L310.96 477.74L311.93 478.48L312.92 479.20L313.93 479.90L314.95 480.57L316.00 481.21L317.06 481.84L318.14 482.44L319.23 483.02L320.34 483.58L321.46 484.12L322.60 484.64L323.75 485.14L324.91 485.63L326.08 486.09L327.27 486.54L328.46 486.97L329.66 487.38L330.87 487.77L332.10 488.15L333.32 488.52L334.56 488.87L335.80 489.21L337.04 489.53L338.30 489.84L339.55 490.13L340.81 490.42L342.07 490.69L343.34 490.95L344.60 491.20L345.87 491.44L347.13 491.67L348.40 491.89L349.67 492.10L350.94 492.31L352.21 492.50L353.48 492.68L354.75 492.85L356.02 493.02L357.29 493.18L358.56 493.32L359.84 493.46L361.11 493.59L362.38 493.71L363.66 493.83L364.93 493.93L366.21 494.03L367.48 494.12L368.76 494.21L370.04 494.28L371.31 494.35L372.59 494.41L373.87 494.47L375.15 494.51L376.43 494.55L377.71 494.59L378.99 494.62L380.27 494.64L381.55 494.65L382.83 494.66L384.11 494.67L385.39 494.67L386.67 494.66L387.95 494.65L389.24 494.63L390.52 494.61L391.80 494.58L393.08 494.55L394.37 494.51L395.65 494.47L396.94 494.42L398.22 494.37L399.50 494.32L400.79 494.26L402.07 494.20L403.36 494.13L404.64 494.06L405.93 493.99L407.21 493.91L408.50 493.84L409.79 493.75L411.07 493.67L412.36 493.58L413.64 493.49L414.93 493.40L416.21 493.31L417.50 493.21L418.79 493.11L420.07 493.01L421.36 492.91L422.64 492.81L423.93 492.70L425.22 492.60L426.50 492.49L427.79 492.39L429.08 492.28L430.36 492.17L431.65 492.06L432.93 491.95L434.22 491.84L435.50 491.73L436.79 491.62L438.07 491.51L439.36 491.40L440.64 491.29L441.93 491.18L443.21 491.08L444.50 490.97L445.78 490.87L447.07 490.76L448.35 490.66L449.63 490.56L450.92 490.46L452.20 490.36L453.48 490.27L454.77 490.17L456.05 490.08L457.33 489.99L458.61 489.91L459.89 489.83L461.18 489.74L462.46 489.67L463.74 489.59L465.02 489.52L466.30 489.45L467.58 489.39L468.85 489.33L470.13 489.27L471.41 489.22L472.69 489.17L473.97 489.13L475.24 489.09L476.52 489.05L477.79 489.02L479.07 488.99L480.34 488.97L481.62 488.96L482.89 488.95L484.16 488.94L485.44 488.94L486.71 488.95L487.98 488.96L489.25 488.98L490.52 489.00L491.79 489.03L493.06 489.07L494.33 489.11L495.60 489.16L496.87 489.22L498.13 489.29L499.40 489.36L500.66 489.44L501.93 489.52L503.19 489.61L504.45 489.72L505.72 489.82L506.98 489.94L508.24 490.07L509.50 490.20" stroke="#ff0000" stroke-width="2.90" fill="none" stroke-dasharray="6.5 3.2 1.4 3.2"/>
<path d="M261.80 307.50L262.09 308.75L262.37 310.00L262.65 311.25L262.93 312.50L263.21 313.75L263.48 315.00L263.75 316.26L264.01 317.51L264.27 318.76L264.53 320.02L264.79 321.27L265.05 322.53L265.30 323.78L265.55 325.03L265.80 326.29L266.04 327.54L266.29 328.80L266.53 330.06L266.77 331.31L267.01 332.57L267.24 333.82L267.48 335.08L267.71 336.34L267.92 337.60L268.10 338.86L268.28 340.12L268.46 341.39L268.64 342.65L268.81 343.91L268.99 345.17L269.17 346.44L269.34 347.70L269.52 348.96L269.69 350.23L269.87 351.49L270.04 352.75L270.22 354.01L270.39 355.27L270.57 356.53L270.75 357.79L270.92 359.06L271.10 360.32L271.28 361.58L271.46 362.84L271.64 364.10L271.82 365.36L272.00 366.62L272.19 367.87L272.37 369.13L272.56 370.39L272.75 371.65L272.94 372.91L273.13 374.16L273.33 375.42L273.52 376.68L273.72 377.93L273.92 379.19L274.13 380.44L274.33 381.70L274.54 382.95L274.75 384.21L274.97 385.46L275.18 386.71L275.40 387.97L275.62 389.22L275.85 390.47L276.08 391.72L276.31 392.97L276.55 394.22L276.79 395.47L277.03 396.72L277.28 397.97L277.53 399.22L277.79 400.47L278.05 401.71L278.31 402.96L278.58 404.21L278.86 405.45L279.14 406.70L279.42 407.94L279.71 409.18L280.00 410.43L280.30 411.67L280.60 412.91L280.91 414.15L281.22 415.39L281.54 416.63L281.87 417.87L282.20 419.10L282.53 420.34L282.87 421.58L283.22 422.81L283.58 424.05L283.94 425.28L284.30 426.52L284.68 427.75L285.06 428.98L285.44 430.21L285.84 431.44L286.24 432.67L286.64 433.90L287.06 435.13L287.48 436.36L287.91 437.58L288.34 438.81L288.79 440.03L289.24 441.26L289.70 442.48L290.17 443.70L290.64 444.91L291.13 446.12L291.62 447.32L292.13 448.52L292.64 449.72L293.17 450.90L293.70 452.08L294.25 453.25L294.81 454.41L295.38 455.55L295.96 456.69L296.56 457.82L297.17 458.93L297.79 460.03L298.43 461.12L299.08 462.19L299.74 463.25L300.42 464.29L301.12 465.31L301.83 466.32L302.55 467.31L303.30 468.28L304.06 469.23L304.83 470.16L305.63 471.07L306.44 471.96L307.27 472.82L308.12 473.67L308.98 474.49L309.87 475.28L310.77 476.05L311.70 476.80L312.64 477.52L313.61 478.22L314.59 478.90L315.60 479.55L316.62 480.18L317.66 480.80L318.71 481.39L319.78 481.96L320.87 482.51L321.97 483.04L323.09 483.55L324.22 484.04L325.36 484.51L326.51 484.97L327.68 485.41L328.86 485.83L330.04 486.24L331.24 486.64L332.44 487.02L333.65 487.39L334.87 487.74L336.10 488.08L337.33 488.40L338.57 488.72L339.81 489.02L341.06 489.31L342.31 489.58L343.56 489.85L344.81 490.11L346.07 490.35L347.33 490.59L348.58 490.81L349.84 491.03L351.10 491.24L352.36 491.44L353.63 491.63L354.89 491.81L356.15 491.98L357.41 492.14L358.68 492.29L359.94 492.44L361.21 492.57L362.48 492.70L363.74 492.82L365.01 492.94L366.28 493.04L367.55 493.14L368.82 493.23L370.09 493.31L371.36 493.39L372.63 493.45L373.91 493.52L375.18 493.57L376.45 493.62L377.73 493.66L379.00 493.70L380.28 493.73L381.56 493.75L382.83 493.77L384.11 493.78L385.39 493.78L386.66 493.78L387.94 493.78L389.22 493.77L390.50 493.75L391.78 493.73L393.06 493.71L394.34 493.68L395.62 493.64L396.91 493.60L398.19 493.56L399.47 493.51L400.75 493.46L402.03 493.41L403.32 493.35L404.60 493.29L405.88 493.22L407.17 493.16L408.45 493.08L409.74 493.01L411.02 492.93L412.31 492.85L413.59 492.77L414.88 492.69L416.16 492.60L417.45 492.51L418.73 492.42L420.02 492.33L421.31 492.23L422.59 492.14L423.88 492.04L425.16 491.94L426.45 491.84L427.74 491.74L429.02 491.64L430.31 491.54L431.59 491.44L432.88 491.34L434.17 491.24L435.45 491.13L436.74 491.03L438.03 490.93L439.31 490.83L440.60 490.73L441.88 490.62L443.17 490.52L444.45 490.43L445.74 490.33L447.02 490.23L448.31 490.14L449.59 490.04L450.88 489.95L452.16 489.86L453.45 489.77L454.73 489.69L456.02 489.60L457.30 489.52L458.58 489.44L459.86 489.37L461.15 489.29L462.43 489.22L463.71 489.16L464.99 489.09L466.27 489.03L467.55 488.97L468.84 488.92L470.12 488.87L471.39 488.83L472.67 488.78L473.95 488.75L475.23 488.71L476.51 488.69L477.79 488.66L479.06 488.64L480.34 488.63L481.61 488.62L482.89 488.62L484.16 488.62L485.44 488.63L486.71 488.64L487.98 488.66L489.26 488.69L490.53 488.72L491.80 488.76L493.07 488.80L494.34 488.85L495.61 488.91L496.88 488.97L498.14 489.04L499.41 489.12L500.68 489.21L501.94 489.30L503.21 489.40L504.47 489.51L505.73 489.63L507.00 489.75L508.26 489.88L509.52 490.02" stroke="#ff0000" stroke-width="2.90" fill="none" stroke-dasharray="6.5 3.2 1.4 3.2"/>
</g>
<rect x="386.20" y="311.60" width="119.00" height="44.60" fill="#fff" stroke="#262626" stroke-width="1.1"/>
<line x1="391.80" y1="319.80" x2="420.40" y2="319.80" stroke="#1c3aff" stroke-width="3"/><line x1="391.80" y1="334.10" x2="420.40" y2="334.10" stroke="#000" stroke-width="3" stroke-dasharray="5.93 5.41"/><line x1="391.80" y1="348.40" x2="420.40" y2="348.40" stroke="#ff0000" stroke-width="3" stroke-dasharray="1.31 3.23 5.93 3.14"/><text x="423.60" y="324.10" class="lg" style="font-size:12.00px;letter-spacing:0.55px">momo NF</text><text x="423.60" y="338.40" class="lg" style="font-size:12.00px;letter-spacing:0.55px">hybrid NF</text><text x="423.60" y="352.70" class="lg" style="font-size:12.00px;letter-spacing:0.55px">tri−hybrid NF</text>
<line x1="99.70" y1="188.90" x2="143.60" y2="120.55" stroke="#1c3aff" stroke-width="2.5"/><polygon points="148.90,112.30 146.93,123.87 139.19,118.90" fill="#1c3aff" stroke="#1c3aff" stroke-width="1" stroke-linejoin="round"/>
<line x1="493.30" y1="188.60" x2="553.99" y2="105.77" stroke="#1c3aff" stroke-width="2.5"/><polygon points="559.90,97.70 557.19,109.35 549.61,103.80" fill="#1c3aff" stroke="#1c3aff" stroke-width="1" stroke-linejoin="round"/>
<line x1="287.90" y1="492.80" x2="316.89" y2="457.58" stroke="#1c3aff" stroke-width="2.5"/><polygon points="322.80,450.40 319.81,461.28 312.70,455.43" fill="#1c3aff" stroke="#1c3aff" stroke-width="1" stroke-linejoin="round"/>
<text x="196.0" y="151.6" class="m" style="font-size:20px;letter-spacing:0.45px">m=1,2,3</text>
<text x="588.3" y="129.7" class="m" style="font-size:19px">m=1,2,3</text>
<text x="367.6" y="463.4" class="m" style="font-size:18.2px">m=1,2,3</text>
<text transform="translate(193.40,259.40) scale(1.20,1)" text-anchor="middle" style="font-size:20.2px">ξ</text>
<text transform="translate(550.80,268.90) scale(1.20,1)" text-anchor="middle" style="font-size:20.2px">ξ</text>
<text transform="translate(386.20,536.40) scale(1.20,1)" text-anchor="middle" style="font-size:19.0px">ξ</text>
<text transform="translate(23.6,129.2) rotate(-90)" text-anchor="middle" style="font-size:21px;font-weight:bold">F</text>
<text transform="translate(23.0,109.0) rotate(-90)" text-anchor="middle" style="font-size:20.5px"><tspan font-weight="bold">(</tspan>ξ<tspan font-weight="bold">)</tspan></text>
<line x1="1.3" y1="120.2" x2="4.6" y2="122.6" stroke="#000" stroke-width="1.4" stroke-linecap="round"/>
<text transform="translate(391.7,132.0) rotate(-90)" text-anchor="middle" style="font-size:20px;font-weight:bold">G</text>
<text transform="translate(391.6,112.0) rotate(-90)" text-anchor="middle" style="font-size:20px"><tspan font-weight="bold">(</tspan>ξ<tspan font-weight="bold">)</tspan></text>
<text transform="translate(232.9,416.6) rotate(-90)" text-anchor="middle" style="font-size:19px">θ</text>
<text transform="translate(232.8,402.2) rotate(-90)" text-anchor="middle" style="font-size:19px">(ξ)</text>
<text x="178.7" y="295.8" text-anchor="middle" class="pl">(a)</text>
<text x="555.7" y="296.3" text-anchor="middle" class="pl">(b)</text>
<text x="368.7" y="560.6" text-anchor="middle" class="pl">(c)</text>
</svg>
</body></html>
